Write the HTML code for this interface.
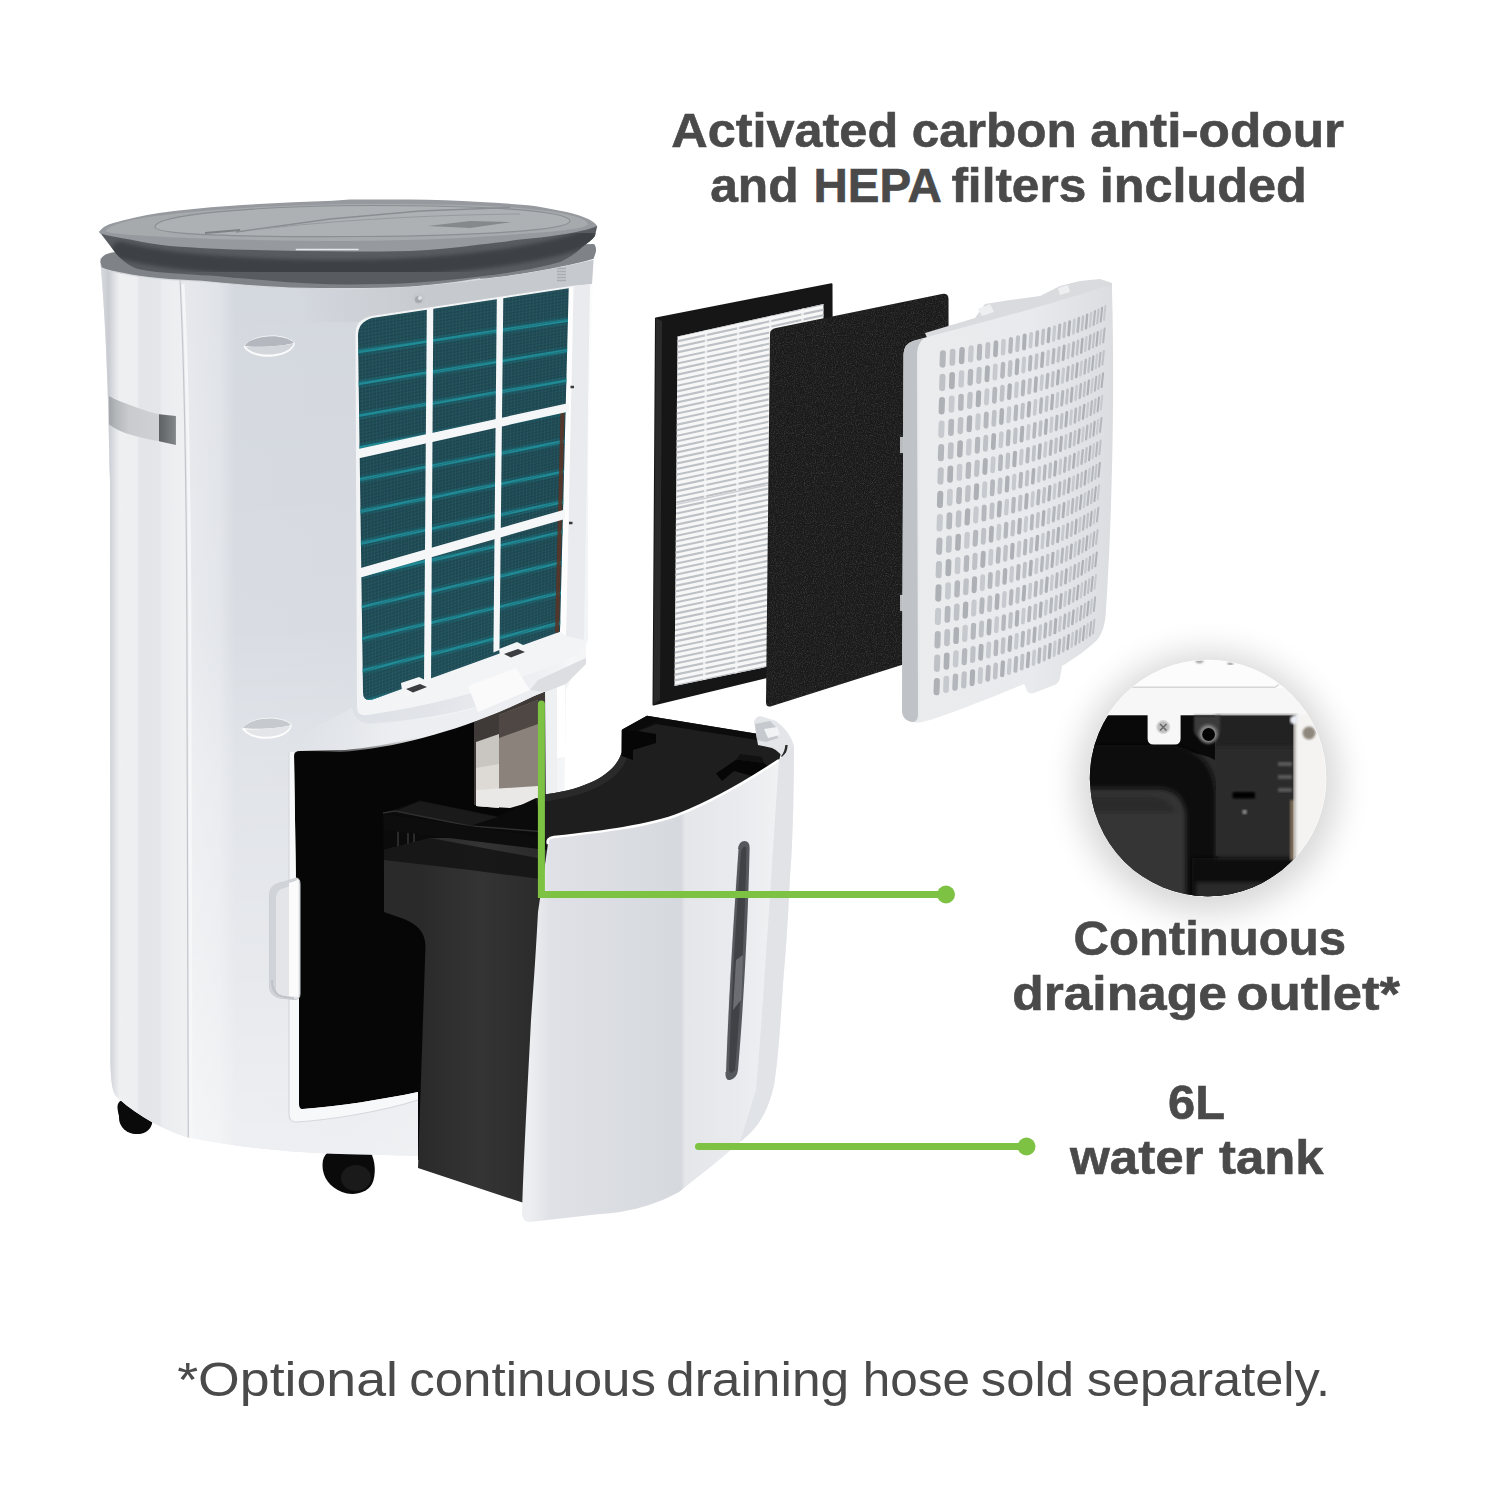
<!DOCTYPE html>
<html lang="en"><head><meta charset="utf-8"><title>Dehumidifier features</title>
<style>
html,body{margin:0;padding:0;background:#fff;}
body{width:1500px;height:1500px;overflow:hidden;font-family:"Liberation Sans",sans-serif;}
svg{display:block}
svg text{font-family:"Liberation Sans",sans-serif;fill:#4a4a4a}
</style></head><body>
<svg width="1500" height="1500" viewBox="0 0 1500 1500">
<rect width="1500" height="1500" fill="#fff"/>
<!-- defs -->
<defs>
<linearGradient id="gSide" x1="100" x2="186" y1="0" y2="0" gradientUnits="userSpaceOnUse">
 <stop offset="0" stop-color="#d9dbdf"/><stop offset="0.1" stop-color="#c9ccd1"/><stop offset="0.17" stop-color="#dfe1e5"/>
 <stop offset="0.23" stop-color="#eef0f2"/><stop offset="0.43" stop-color="#eceef0"/>
 <stop offset="0.46" stop-color="#e3e5e9"/><stop offset="0.7" stop-color="#e4e6ea"/>
 <stop offset="0.72" stop-color="#eaecef"/><stop offset="1" stop-color="#eef0f2"/>
</linearGradient>
<linearGradient id="gFront" x1="186" x2="600" y1="0" y2="0" gradientUnits="userSpaceOnUse">
 <stop offset="0" stop-color="#e6e8ec"/><stop offset="0.08" stop-color="#e0e3e8"/><stop offset="0.12" stop-color="#d4d8df"/>
 <stop offset="0.4" stop-color="#d3d7de"/><stop offset="0.6" stop-color="#d9dce2"/>
 <stop offset="0.9" stop-color="#eef0f3"/><stop offset="1" stop-color="#ffffff"/>
</linearGradient>
<linearGradient id="gFrontV" x1="0" x2="0" y1="280" y2="1150" gradientUnits="userSpaceOnUse">
 <stop offset="0" stop-color="#fff" stop-opacity="0"/><stop offset="0.4" stop-color="#fff" stop-opacity="0.12"/>
 <stop offset="0.55" stop-color="#fff" stop-opacity="0.3"/><stop offset="0.8" stop-color="#fff" stop-opacity="0.45"/><stop offset="1" stop-color="#fff" stop-opacity="0.6"/>
</linearGradient>
<linearGradient id="gLidRim" x1="0" x2="0" y1="215" y2="285" gradientUnits="userSpaceOnUse">
 <stop offset="0" stop-color="#8e9295"/><stop offset="0.45" stop-color="#85898c"/>
 <stop offset="0.6" stop-color="#6b6f73"/><stop offset="1" stop-color="#5c6064"/>
</linearGradient>
<linearGradient id="gSilver" x1="109" x2="176" y1="0" y2="0" gradientUnits="userSpaceOnUse">
 <stop offset="0" stop-color="#a0a3a7"/><stop offset="0.1" stop-color="#b4b7ba"/><stop offset="0.3" stop-color="#c9cbce"/>
 <stop offset="0.74" stop-color="#cfd1d4"/><stop offset="0.75" stop-color="#5f6265"/><stop offset="1" stop-color="#84878a"/>
</linearGradient>
<linearGradient id="gTankFront" x1="530" x2="795" y1="0" y2="0" gradientUnits="userSpaceOnUse">
 <stop offset="0" stop-color="#eceef1"/><stop offset="0.08" stop-color="#dfe1e6"/>
 <stop offset="0.5" stop-color="#d7dadf"/><stop offset="0.57" stop-color="#d5d8dd"/><stop offset="0.585" stop-color="#e4e6ea"/>
 <stop offset="0.8" stop-color="#e9ebee"/><stop offset="1" stop-color="#f3f4f6"/>
</linearGradient>
<linearGradient id="gTankSide" x1="420" x2="540" y1="0" y2="0" gradientUnits="userSpaceOnUse">
 <stop offset="0" stop-color="#2a2a2a"/><stop offset="0.5" stop-color="#343434"/><stop offset="1" stop-color="#2b2b2b"/>
</linearGradient>
<linearGradient id="gGrille" x1="900" x2="1115" y1="0" y2="0" gradientUnits="userSpaceOnUse">
 <stop offset="0" stop-color="#d9dadd"/><stop offset="0.1" stop-color="#ebecee"/><stop offset="0.6" stop-color="#e9eaed"/><stop offset="1" stop-color="#dcdde1"/>
</linearGradient>
<radialGradient id="gInsetSh" cx="1208" cy="782" r="160" gradientUnits="userSpaceOnUse">
 <stop offset="0.72" stop-color="#000" stop-opacity="0.22"/><stop offset="0.85" stop-color="#000" stop-opacity="0.07"/><stop offset="1" stop-color="#000" stop-opacity="0"/>
</radialGradient>
<clipPath id="cInset"><circle cx="1207.8" cy="778.2" r="118"/></clipPath>
<filter id="blur2"><feGaussianBlur stdDeviation="2"/></filter>
<filter id="blur4"><feGaussianBlur stdDeviation="4"/></filter>
<filter id="blur12" x="-40%" y="-40%" width="180%" height="180%"><feGaussianBlur stdDeviation="17"/></filter>
<filter id="blur1"><feGaussianBlur stdDeviation="1"/></filter>
</defs>

<!-- filters -->
<g id="filters">
<path d="M656 318.5 L831.5 284.2 L832.5 661 L653.5 704.5 Z" fill="#161616" stroke="#161616" stroke-width="2" stroke-linejoin="round"/>
<path d="M656 318.5 L662 321 L660 700 L653.5 704.5 Z" fill="#2a2a2a"/>
<clipPath id="cHepa"><path d="M677.5 336.5 L823.5 304 L823.5 655 L674.5 686 Z"/></clipPath>
<g clip-path="url(#cHepa)">
<rect x="670" y="300" width="160" height="390" fill="#f7f7f8"/>
<path d="M674 336.5 L824 304.0" stroke="#bdc0c4" stroke-width="2.1"/>
<path d="M674 342.0 L824 309.6" stroke="#bdc0c4" stroke-width="2.1"/>
<path d="M674 347.6 L824 315.1" stroke="#bdc0c4" stroke-width="2.1"/>
<path d="M674 353.1 L824 320.7" stroke="#bdc0c4" stroke-width="2.1"/>
<path d="M674 358.7 L824 326.3" stroke="#bdc0c4" stroke-width="2.1"/>
<path d="M674 364.2 L824 331.9" stroke="#bdc0c4" stroke-width="2.1"/>
<path d="M674 369.8 L824 337.4" stroke="#bdc0c4" stroke-width="2.1"/>
<path d="M674 375.3 L824 343.0" stroke="#bdc0c4" stroke-width="2.1"/>
<path d="M674 380.9 L824 348.6" stroke="#bdc0c4" stroke-width="2.1"/>
<path d="M674 386.4 L824 354.1" stroke="#bdc0c4" stroke-width="2.1"/>
<path d="M674 392.0 L824 359.7" stroke="#bdc0c4" stroke-width="2.1"/>
<path d="M674 397.5 L824 365.3" stroke="#bdc0c4" stroke-width="2.1"/>
<path d="M674 403.1 L824 370.9" stroke="#bdc0c4" stroke-width="2.1"/>
<path d="M674 408.6 L824 376.4" stroke="#bdc0c4" stroke-width="2.1"/>
<path d="M674 414.2 L824 382.0" stroke="#bdc0c4" stroke-width="2.1"/>
<path d="M674 419.7 L824 387.6" stroke="#bdc0c4" stroke-width="2.1"/>
<path d="M674 425.3 L824 393.1" stroke="#bdc0c4" stroke-width="2.1"/>
<path d="M674 430.8 L824 398.7" stroke="#bdc0c4" stroke-width="2.1"/>
<path d="M674 436.4 L824 404.3" stroke="#bdc0c4" stroke-width="2.1"/>
<path d="M674 441.9 L824 409.9" stroke="#bdc0c4" stroke-width="2.1"/>
<path d="M674 447.5 L824 415.4" stroke="#bdc0c4" stroke-width="2.1"/>
<path d="M674 453.0 L824 421.0" stroke="#bdc0c4" stroke-width="2.1"/>
<path d="M674 458.5 L824 426.6" stroke="#bdc0c4" stroke-width="2.1"/>
<path d="M674 464.1 L824 432.1" stroke="#bdc0c4" stroke-width="2.1"/>
<path d="M674 469.6 L824 437.7" stroke="#bdc0c4" stroke-width="2.1"/>
<path d="M674 475.2 L824 443.3" stroke="#bdc0c4" stroke-width="2.1"/>
<path d="M674 480.7 L824 448.9" stroke="#bdc0c4" stroke-width="2.1"/>
<path d="M674 486.3 L824 454.4" stroke="#bdc0c4" stroke-width="2.1"/>
<path d="M674 491.8 L824 460.0" stroke="#bdc0c4" stroke-width="2.1"/>
<path d="M674 497.4 L824 465.6" stroke="#bdc0c4" stroke-width="2.1"/>
<path d="M674 502.9 L824 471.1" stroke="#bdc0c4" stroke-width="2.1"/>
<path d="M674 508.5 L824 476.7" stroke="#bdc0c4" stroke-width="2.1"/>
<path d="M674 514.0 L824 482.3" stroke="#bdc0c4" stroke-width="2.1"/>
<path d="M674 519.6 L824 487.9" stroke="#bdc0c4" stroke-width="2.1"/>
<path d="M674 525.1 L824 493.4" stroke="#bdc0c4" stroke-width="2.1"/>
<path d="M674 530.7 L824 499.0" stroke="#bdc0c4" stroke-width="2.1"/>
<path d="M674 536.2 L824 504.6" stroke="#bdc0c4" stroke-width="2.1"/>
<path d="M674 541.8 L824 510.1" stroke="#bdc0c4" stroke-width="2.1"/>
<path d="M674 547.3 L824 515.7" stroke="#bdc0c4" stroke-width="2.1"/>
<path d="M674 552.9 L824 521.3" stroke="#bdc0c4" stroke-width="2.1"/>
<path d="M674 558.4 L824 526.9" stroke="#bdc0c4" stroke-width="2.1"/>
<path d="M674 564.0 L824 532.4" stroke="#bdc0c4" stroke-width="2.1"/>
<path d="M674 569.5 L824 538.0" stroke="#bdc0c4" stroke-width="2.1"/>
<path d="M674 575.0 L824 543.6" stroke="#bdc0c4" stroke-width="2.1"/>
<path d="M674 580.6 L824 549.1" stroke="#bdc0c4" stroke-width="2.1"/>
<path d="M674 586.1 L824 554.7" stroke="#bdc0c4" stroke-width="2.1"/>
<path d="M674 591.7 L824 560.3" stroke="#bdc0c4" stroke-width="2.1"/>
<path d="M674 597.2 L824 565.9" stroke="#bdc0c4" stroke-width="2.1"/>
<path d="M674 602.8 L824 571.4" stroke="#bdc0c4" stroke-width="2.1"/>
<path d="M674 608.3 L824 577.0" stroke="#bdc0c4" stroke-width="2.1"/>
<path d="M674 613.9 L824 582.6" stroke="#bdc0c4" stroke-width="2.1"/>
<path d="M674 619.4 L824 588.1" stroke="#bdc0c4" stroke-width="2.1"/>
<path d="M674 625.0 L824 593.7" stroke="#bdc0c4" stroke-width="2.1"/>
<path d="M674 630.5 L824 599.3" stroke="#bdc0c4" stroke-width="2.1"/>
<path d="M674 636.1 L824 604.9" stroke="#bdc0c4" stroke-width="2.1"/>
<path d="M674 641.6 L824 610.4" stroke="#bdc0c4" stroke-width="2.1"/>
<path d="M674 647.2 L824 616.0" stroke="#bdc0c4" stroke-width="2.1"/>
<path d="M674 652.7 L824 621.6" stroke="#bdc0c4" stroke-width="2.1"/>
<path d="M674 658.3 L824 627.1" stroke="#bdc0c4" stroke-width="2.1"/>
<path d="M674 663.8 L824 632.7" stroke="#bdc0c4" stroke-width="2.1"/>
<path d="M674 669.4 L824 638.3" stroke="#bdc0c4" stroke-width="2.1"/>
<path d="M674 674.9 L824 643.9" stroke="#bdc0c4" stroke-width="2.1"/>
<path d="M674 680.5 L824 649.4" stroke="#bdc0c4" stroke-width="2.1"/>
<path d="M674 686.0 L824 655.0" stroke="#bdc0c4" stroke-width="2.1"/>
<path d="M706.2 300 L704.2 690" stroke="#f6f6f7" stroke-width="2.5" opacity="0.8"/>
<path d="M738.3 300 L736.3 690" stroke="#f6f6f7" stroke-width="2.5" opacity="0.8"/>
<path d="M770.4 300 L768.4 690" stroke="#f6f6f7" stroke-width="2.5" opacity="0.8"/>
<path d="M802.6 300 L800.6 690" stroke="#f6f6f7" stroke-width="2.5" opacity="0.8"/>
<path d="M674 505 L824 473" stroke="#cfd1d5" stroke-width="1.5"/>
</g>
<filter id="fNoise" x="0" y="0" width="100%" height="100%"><feTurbulence type="fractalNoise" baseFrequency="0.9" numOctaves="2" seed="4"/><feColorMatrix type="matrix" values="0 0 0 0 0.26  0 0 0 0 0.26  0 0 0 0 0.26  0 0 0 -2.2 1.25"/><feComposite in2="SourceGraphic" operator="in"/></filter>
<path d="M770 334 Q770 329 776 328 L942 294 Q948.5 293 948.5 299 L949 650 L772 706 Q766 708 766 702 Z" fill="#1a1a1a"/>
<path d="M770 334 Q770 329 776 328 L942 294 Q948.5 293 948.5 299 L949 650 L772 706 Q766 708 766 702 Z" fill="#000" filter="url(#fNoise)" opacity="0.3"/>
<path d="M925 333 L975 318 L985 304 L1010 300 L1040 296 L1060 286 L1080 281 L1100 279 L1112 283 L1112 300 L930 345 Z" fill="#d9dbde"/>
<path d="M978 309 L990 304 L994 312 L982 316 Z M1058 288 L1068 285 L1070 292 L1060 295 Z" fill="#eeeff1"/>
<path d="M900 436 h7 v18 h-7 z M900 594 h7 v18 h-7 z" fill="#b9bbbf"/>
<path d="M899 436 h8 M899 454 h8 M899 594 h8 M899 612 h8" stroke="#2a2a2a" stroke-width="2"/>
<path d="M903.5 354 Q904 344 913 341 C960 328 1040 308 1100 288 Q1110 284 1112 290 C1114.5 380 1113 500 1106 610 Q1105 632 1096 641 C1084 652 1072 660 1062 666 L1060 678 Q1059 684 1052 686 L1034 693 Q1027 695 1026 688 L1024 684 C990 698 960 710 930 720 C922 722.5 916 723 912 722 Q903 720 902 712 Z" fill="url(#gGrille)"/>
<path d="M903.5 354 Q904 344 913 341 L924 338 Q917 344 917 354 L918 716 Q917 722 912 722 Q903 720 902 712 Z" fill="#bfc2c6"/>
<g stroke="#b4b7bc" stroke-linecap="round" fill="none"><path d="M942.9 353.3L942.5 364.7" stroke-width="6.0"/><path d="M979.7 346.2L979.2 358.2" stroke-width="5.1"/><path d="M1011.0 339.1L1010.3 351.7" stroke-width="4.3"/><path d="M1037.4 332.1L1036.6 345.1" stroke-width="3.6"/><path d="M1059.8 325.1L1058.8 338.4" stroke-width="3.1"/><path d="M1078.9 318.1L1077.7 331.7" stroke-width="2.6"/><path d="M1095.0 311.2L1093.6 325.0" stroke-width="2.2"/><path d="M970.6 371.3L970.1 383.1" stroke-width="5.3"/><path d="M1003.1 364.0L1002.4 376.4" stroke-width="4.5"/><path d="M1030.6 356.8L1029.8 369.7" stroke-width="3.8"/><path d="M1053.9 349.7L1052.9 362.9" stroke-width="3.2"/><path d="M1073.7 342.6L1072.5 356.1" stroke-width="2.7"/><path d="M1090.4 335.5L1089.1 349.2" stroke-width="2.3"/><path d="M1104.6 328.5L1103.2 342.3" stroke-width="2.0"/><path d="M961.1 396.4L960.7 408.1" stroke-width="5.5"/><path d="M994.9 389.0L994.3 401.3" stroke-width="4.7"/><path d="M1023.5 381.6L1022.7 394.4" stroke-width="4.0"/><path d="M1047.8 374.3L1046.8 387.5" stroke-width="3.3"/><path d="M1068.3 367.1L1067.2 380.5" stroke-width="2.8"/><path d="M1085.8 359.9L1084.5 373.5" stroke-width="2.4"/><path d="M1100.5 352.7L1099.1 366.5" stroke-width="2.0"/><path d="M951.3 421.6L950.9 433.1" stroke-width="5.7"/><path d="M986.4 414.0L985.9 426.2" stroke-width="4.9"/><path d="M1016.2 406.5L1015.5 419.2" stroke-width="4.1"/><path d="M1041.4 399.1L1040.5 412.2" stroke-width="3.5"/><path d="M1062.8 391.6L1061.7 405.0" stroke-width="3.0"/><path d="M1080.9 384.3L1079.7 397.9" stroke-width="2.5"/><path d="M1096.3 376.9L1094.9 390.7" stroke-width="2.1"/><path d="M941.2 446.9L940.8 458.3" stroke-width="6.0"/><path d="M977.7 439.2L977.2 451.2" stroke-width="5.1"/><path d="M1008.6 431.5L1007.9 444.1" stroke-width="4.3"/><path d="M1034.9 423.9L1034.0 436.9" stroke-width="3.6"/><path d="M1057.1 416.3L1056.1 429.6" stroke-width="3.1"/><path d="M1075.9 408.8L1074.8 422.4" stroke-width="2.6"/><path d="M1091.9 401.3L1090.6 415.0" stroke-width="2.2"/><path d="M968.6 464.4L968.1 476.3" stroke-width="5.3"/><path d="M1000.8 456.6L1000.2 469.0" stroke-width="4.5"/><path d="M1028.1 448.8L1027.3 461.7" stroke-width="3.8"/><path d="M1051.2 441.0L1050.2 454.3" stroke-width="3.2"/><path d="M1070.8 433.3L1069.7 446.9" stroke-width="2.7"/><path d="M1087.4 425.7L1086.1 439.4" stroke-width="2.3"/><path d="M1101.5 418.1L1100.0 431.9" stroke-width="2.0"/><path d="M959.3 489.7L958.8 501.4" stroke-width="5.5"/><path d="M992.7 481.7L992.1 494.0" stroke-width="4.7"/><path d="M1021.1 473.7L1020.3 486.5" stroke-width="4.0"/><path d="M1045.1 465.9L1044.2 479.0" stroke-width="3.3"/><path d="M1065.5 458.0L1064.4 471.5" stroke-width="2.8"/><path d="M1082.8 450.2L1081.5 463.9" stroke-width="2.4"/><path d="M1097.4 442.4L1096.0 456.2" stroke-width="2.0"/><path d="M949.5 515.1L949.1 526.6" stroke-width="5.7"/><path d="M984.3 506.9L983.8 519.1" stroke-width="4.9"/><path d="M1013.8 498.8L1013.1 511.5" stroke-width="4.1"/><path d="M1038.8 490.7L1037.9 503.8" stroke-width="3.5"/><path d="M1060.0 482.7L1059.0 496.1" stroke-width="3.0"/><path d="M1078.0 474.8L1076.8 488.4" stroke-width="2.5"/><path d="M1093.2 466.8L1091.8 480.6" stroke-width="2.1"/><path d="M939.5 540.5L939.1 551.9" stroke-width="6.0"/><path d="M975.7 532.2L975.1 544.2" stroke-width="5.1"/><path d="M1006.3 523.9L1005.6 536.5" stroke-width="4.3"/><path d="M1032.3 515.7L1031.5 528.7" stroke-width="3.6"/><path d="M1054.4 507.5L1053.3 520.9" stroke-width="3.1"/><path d="M1073.0 499.4L1071.9 513.0" stroke-width="2.6"/><path d="M1088.9 491.3L1087.5 505.1" stroke-width="2.2"/><path d="M966.7 557.6L966.2 569.4" stroke-width="5.3"/><path d="M998.6 549.1L997.9 561.6" stroke-width="4.5"/><path d="M1025.6 540.7L1024.8 553.6" stroke-width="3.8"/><path d="M1048.5 532.4L1047.5 545.7" stroke-width="3.2"/><path d="M1067.9 524.1L1066.8 537.7" stroke-width="2.7"/><path d="M1084.4 515.9L1083.1 529.6" stroke-width="2.3"/><path d="M1098.4 507.7L1096.9 521.5" stroke-width="2.0"/><path d="M957.4 583.0L956.9 594.7" stroke-width="5.5"/><path d="M990.5 574.4L989.9 586.7" stroke-width="4.7"/><path d="M1018.6 565.9L1017.9 578.7" stroke-width="4.0"/><path d="M1042.5 557.4L1041.5 570.5" stroke-width="3.3"/><path d="M1062.7 548.9L1061.6 562.4" stroke-width="2.8"/><path d="M1079.8 540.5L1078.5 554.2" stroke-width="2.4"/><path d="M1094.3 532.2L1092.9 546.0" stroke-width="2.0"/><path d="M947.7 608.5L947.3 620.0" stroke-width="5.7"/><path d="M982.2 599.8L981.6 611.9" stroke-width="4.9"/><path d="M1011.5 591.1L1010.7 603.7" stroke-width="4.1"/><path d="M1036.2 582.4L1035.3 595.5" stroke-width="3.5"/><path d="M1057.2 573.8L1056.2 587.2" stroke-width="3.0"/><path d="M1075.0 565.3L1073.8 578.9" stroke-width="2.5"/><path d="M1090.1 556.7L1088.7 570.5" stroke-width="2.1"/><path d="M937.8 634.1L937.4 645.5" stroke-width="6.0"/><path d="M973.6 625.2L973.1 637.2" stroke-width="5.1"/><path d="M1004.0 616.3L1003.3 628.9" stroke-width="4.3"/><path d="M1029.8 607.5L1028.9 620.5" stroke-width="3.6"/><path d="M1051.6 598.8L1050.6 612.1" stroke-width="3.1"/><path d="M1070.1 590.0L1068.9 603.6" stroke-width="2.6"/><path d="M1085.8 581.4L1084.5 595.1" stroke-width="2.2"/><path d="M964.7 650.7L964.2 662.6" stroke-width="5.3"/><path d="M996.3 641.7L995.7 654.1" stroke-width="4.5"/><path d="M1023.1 632.7L1022.3 645.6" stroke-width="3.8"/><path d="M1045.8 623.8L1044.8 637.0" stroke-width="3.2"/><path d="M1065.1 614.9L1063.9 628.4" stroke-width="2.7"/><path d="M1081.4 606.1L1080.1 619.8" stroke-width="2.3"/><path d="M1095.2 597.3L1093.8 611.1" stroke-width="2.0"/><path d="M955.5 676.3L955.0 688.0" stroke-width="5.5"/><path d="M988.4 667.1L987.7 679.4" stroke-width="4.7"/><path d="M1016.2 658.0L1015.4 670.8" stroke-width="4.0"/><path d="M1039.8 648.9L1038.9 662.1" stroke-width="3.3"/><path d="M1059.8 639.9L1058.7 653.3" stroke-width="2.8"/><path d="M1076.8 630.9L1075.5 644.5" stroke-width="2.4"/><path d="M1091.2 621.9L1089.8 635.7" stroke-width="2.0"/></g>
<g stroke="#c6c9cd" stroke-linecap="round" fill="none"><path d="M971.1 348.0L970.6 359.8" stroke-width="5.3"/><path d="M1003.6 340.9L1003.0 353.3" stroke-width="4.5"/><path d="M1031.2 333.8L1030.4 346.7" stroke-width="3.8"/><path d="M1054.6 326.8L1053.6 340.1" stroke-width="3.2"/><path d="M1074.4 319.9L1073.3 333.4" stroke-width="2.7"/><path d="M1091.2 313.0L1089.9 326.7" stroke-width="2.3"/><path d="M1105.4 306.1L1104.0 319.9" stroke-width="2.0"/><path d="M961.6 373.1L961.1 384.8" stroke-width="5.5"/><path d="M995.4 365.8L994.8 378.1" stroke-width="4.7"/><path d="M1024.1 358.6L1023.3 371.4" stroke-width="4.0"/><path d="M1048.4 351.4L1047.5 364.6" stroke-width="3.3"/><path d="M1069.0 344.3L1067.9 357.8" stroke-width="2.8"/><path d="M1086.5 337.3L1085.2 350.9" stroke-width="2.4"/><path d="M1101.3 330.2L1099.9 344.1" stroke-width="2.0"/><path d="M951.8 398.3L951.4 409.8" stroke-width="5.7"/><path d="M987.0 390.8L986.4 403.0" stroke-width="4.9"/><path d="M1016.8 383.5L1016.1 396.1" stroke-width="4.1"/><path d="M1042.1 376.1L1041.2 389.2" stroke-width="3.5"/><path d="M1063.5 368.9L1062.4 382.3" stroke-width="3.0"/><path d="M1081.7 361.7L1080.4 375.3" stroke-width="2.5"/><path d="M1097.1 354.5L1095.7 368.3" stroke-width="2.1"/><path d="M941.6 423.5L941.2 434.9" stroke-width="6.0"/><path d="M978.2 415.9L977.7 427.9" stroke-width="5.1"/><path d="M1009.2 408.4L1008.5 421.0" stroke-width="4.3"/><path d="M1035.5 400.9L1034.6 413.9" stroke-width="3.6"/><path d="M1057.8 393.5L1056.8 406.8" stroke-width="3.1"/><path d="M1076.7 386.1L1075.5 399.7" stroke-width="2.6"/><path d="M1092.7 378.8L1091.3 392.5" stroke-width="2.2"/><path d="M969.1 441.1L968.6 453.0" stroke-width="5.3"/><path d="M1001.4 433.4L1000.7 445.9" stroke-width="4.5"/><path d="M1028.7 425.8L1027.9 438.7" stroke-width="3.8"/><path d="M1051.9 418.2L1050.9 431.4" stroke-width="3.2"/><path d="M1071.5 410.7L1070.4 424.2" stroke-width="2.7"/><path d="M1088.2 403.1L1086.9 416.9" stroke-width="2.3"/><path d="M1102.3 395.7L1100.8 409.5" stroke-width="2.0"/><path d="M959.7 466.4L959.3 478.1" stroke-width="5.5"/><path d="M993.3 458.5L992.6 470.8" stroke-width="4.7"/><path d="M1021.7 450.7L1020.9 463.5" stroke-width="4.0"/><path d="M1045.8 443.0L1044.8 456.1" stroke-width="3.3"/><path d="M1066.2 435.3L1065.1 448.7" stroke-width="2.8"/><path d="M1083.5 427.6L1082.3 441.3" stroke-width="2.4"/><path d="M1098.2 420.0L1096.8 433.8" stroke-width="2.0"/><path d="M950.0 491.7L949.6 503.2" stroke-width="5.7"/><path d="M984.9 483.7L984.3 495.8" stroke-width="4.9"/><path d="M1014.4 475.7L1013.7 488.4" stroke-width="4.1"/><path d="M1039.5 467.8L1038.6 480.9" stroke-width="3.5"/><path d="M1060.7 460.0L1059.7 473.4" stroke-width="3.0"/><path d="M1078.7 452.1L1077.5 465.8" stroke-width="2.5"/><path d="M1094.0 444.4L1092.6 458.1" stroke-width="2.1"/><path d="M939.9 517.1L939.5 528.5" stroke-width="6.0"/><path d="M976.2 508.9L975.6 521.0" stroke-width="5.1"/><path d="M1006.9 500.8L1006.2 513.4" stroke-width="4.3"/><path d="M1033.0 492.7L1032.1 505.7" stroke-width="3.6"/><path d="M1055.0 484.7L1054.0 498.1" stroke-width="3.1"/><path d="M1073.8 476.8L1072.6 490.3" stroke-width="2.6"/><path d="M1089.6 468.8L1088.3 482.6" stroke-width="2.2"/><path d="M967.2 534.3L966.7 546.1" stroke-width="5.3"/><path d="M999.1 526.0L998.5 538.4" stroke-width="4.5"/><path d="M1026.2 517.8L1025.4 530.6" stroke-width="3.8"/><path d="M1049.2 509.6L1048.2 522.8" stroke-width="3.2"/><path d="M1068.7 501.4L1067.5 515.0" stroke-width="2.7"/><path d="M1085.2 493.3L1083.9 507.1" stroke-width="2.3"/><path d="M1099.1 485.3L1097.7 499.1" stroke-width="2.0"/><path d="M957.8 559.7L957.4 571.4" stroke-width="5.5"/><path d="M991.1 551.2L990.5 563.5" stroke-width="4.7"/><path d="M1019.3 542.8L1018.5 555.6" stroke-width="4.0"/><path d="M1043.1 534.5L1042.2 547.7" stroke-width="3.3"/><path d="M1063.4 526.2L1062.3 539.7" stroke-width="2.8"/><path d="M1080.5 517.9L1079.3 531.6" stroke-width="2.4"/><path d="M1095.1 509.7L1093.7 523.5" stroke-width="2.0"/><path d="M948.2 585.2L947.8 596.7" stroke-width="5.7"/><path d="M982.8 576.6L982.2 588.7" stroke-width="4.9"/><path d="M1012.0 568.0L1011.3 580.7" stroke-width="4.1"/><path d="M1036.9 559.5L1036.0 572.6" stroke-width="3.5"/><path d="M1057.9 551.0L1056.9 564.4" stroke-width="3.0"/><path d="M1075.8 542.6L1074.6 556.3" stroke-width="2.5"/><path d="M1090.9 534.3L1089.5 548.0" stroke-width="2.1"/><path d="M938.2 610.7L937.8 622.1" stroke-width="6.0"/><path d="M974.1 602.0L973.6 614.0" stroke-width="5.1"/><path d="M1004.6 593.2L1003.9 605.8" stroke-width="4.3"/><path d="M1030.4 584.6L1029.6 597.6" stroke-width="3.6"/><path d="M1052.3 576.0L1051.3 589.3" stroke-width="3.1"/><path d="M1070.9 567.4L1069.7 581.0" stroke-width="2.6"/><path d="M1086.6 558.9L1085.2 572.6" stroke-width="2.2"/><path d="M965.2 627.4L964.7 639.3" stroke-width="5.3"/><path d="M996.9 618.5L996.2 631.0" stroke-width="4.5"/><path d="M1023.7 609.7L1022.9 622.6" stroke-width="3.8"/><path d="M1046.5 601.0L1045.5 614.2" stroke-width="3.2"/><path d="M1065.8 592.2L1064.6 605.7" stroke-width="2.7"/><path d="M1082.1 583.5L1080.8 597.3" stroke-width="2.3"/><path d="M1096.0 574.9L1094.5 588.7" stroke-width="2.0"/><path d="M956.0 653.0L955.5 664.7" stroke-width="5.5"/><path d="M988.9 643.9L988.3 656.2" stroke-width="4.7"/><path d="M1016.8 635.0L1016.0 647.7" stroke-width="4.0"/><path d="M1040.5 626.0L1039.5 639.2" stroke-width="3.3"/><path d="M1060.5 617.1L1059.4 630.6" stroke-width="2.8"/><path d="M1077.6 608.3L1076.3 622.0" stroke-width="2.4"/><path d="M1092.0 599.5L1090.5 613.3" stroke-width="2.0"/><path d="M946.4 678.6L946.0 690.1" stroke-width="5.7"/><path d="M980.6 669.4L980.1 681.6" stroke-width="4.9"/><path d="M1009.7 660.3L1008.9 672.9" stroke-width="4.1"/><path d="M1034.3 651.2L1033.4 664.3" stroke-width="3.5"/><path d="M1055.1 642.1L1054.1 655.5" stroke-width="3.0"/><path d="M1072.8 633.1L1071.6 646.7" stroke-width="2.5"/><path d="M1087.8 624.1L1086.4 637.9" stroke-width="2.1"/></g>
<g stroke="#adb0b5" stroke-linecap="round" fill="none"><path d="M962.1 349.8L961.6 361.4" stroke-width="5.5"/><path d="M996.0 342.6L995.4 354.9" stroke-width="4.7"/><path d="M1024.7 335.6L1024.0 348.4" stroke-width="4.0"/><path d="M1049.1 328.6L1048.2 341.7" stroke-width="3.3"/><path d="M1069.7 321.6L1068.6 335.1" stroke-width="2.8"/><path d="M1087.2 314.7L1086.0 328.4" stroke-width="2.4"/><path d="M1102.1 307.8L1100.7 321.6" stroke-width="2.0"/><path d="M952.2 374.9L951.8 386.4" stroke-width="5.7"/><path d="M987.5 367.6L986.9 379.8" stroke-width="4.9"/><path d="M1017.4 360.4L1016.7 373.1" stroke-width="4.1"/><path d="M1042.7 353.2L1041.8 366.3" stroke-width="3.5"/><path d="M1064.2 346.1L1063.1 359.5" stroke-width="3.0"/><path d="M1082.4 339.0L1081.2 352.7" stroke-width="2.5"/><path d="M1097.8 332.0L1096.5 345.8" stroke-width="2.1"/><path d="M942.0 400.1L941.6 411.5" stroke-width="6.0"/><path d="M978.7 392.7L978.2 404.7" stroke-width="5.1"/><path d="M1009.8 385.3L1009.1 397.9" stroke-width="4.3"/><path d="M1036.1 378.0L1035.3 391.0" stroke-width="3.6"/><path d="M1058.5 370.7L1057.5 384.0" stroke-width="3.1"/><path d="M1077.4 363.5L1076.2 377.0" stroke-width="2.6"/><path d="M1093.4 356.3L1092.1 370.0" stroke-width="2.2"/><path d="M969.6 417.8L969.1 429.7" stroke-width="5.3"/><path d="M1001.9 410.3L1001.3 422.7" stroke-width="4.5"/><path d="M1029.3 402.8L1028.5 415.7" stroke-width="3.8"/><path d="M1052.6 395.4L1051.6 408.6" stroke-width="3.2"/><path d="M1072.2 388.0L1071.1 401.5" stroke-width="2.7"/><path d="M1088.9 380.6L1087.6 394.3" stroke-width="2.3"/><path d="M1103.1 373.3L1101.6 387.1" stroke-width="2.0"/><path d="M960.2 443.1L959.7 454.7" stroke-width="5.5"/><path d="M993.8 435.3L993.2 447.6" stroke-width="4.7"/><path d="M1022.3 427.7L1021.5 440.5" stroke-width="4.0"/><path d="M1046.4 420.1L1045.5 433.3" stroke-width="3.3"/><path d="M1066.9 412.5L1065.8 426.0" stroke-width="2.8"/><path d="M1084.3 405.0L1083.0 418.7" stroke-width="2.4"/><path d="M1099.0 397.5L1097.6 411.4" stroke-width="2.0"/><path d="M950.4 468.4L950.0 479.9" stroke-width="5.7"/><path d="M985.4 460.5L984.8 472.6" stroke-width="4.9"/><path d="M1015.0 452.7L1014.3 465.3" stroke-width="4.1"/><path d="M1040.1 444.9L1039.2 458.0" stroke-width="3.5"/><path d="M1061.4 437.2L1060.4 450.6" stroke-width="3.0"/><path d="M1079.5 429.5L1078.2 443.1" stroke-width="2.5"/><path d="M1094.7 421.9L1093.4 435.7" stroke-width="2.1"/><path d="M940.3 493.7L939.9 505.1" stroke-width="6.0"/><path d="M976.7 485.7L976.1 497.7" stroke-width="5.1"/><path d="M1007.5 477.7L1006.8 490.3" stroke-width="4.3"/><path d="M1033.6 469.8L1032.7 482.8" stroke-width="3.6"/><path d="M1055.7 461.9L1054.7 475.2" stroke-width="3.1"/><path d="M1074.5 454.1L1073.3 467.7" stroke-width="2.6"/><path d="M1090.4 446.3L1089.1 460.1" stroke-width="2.2"/><path d="M967.7 511.0L967.1 522.8" stroke-width="5.3"/><path d="M999.7 502.8L999.0 515.3" stroke-width="4.5"/><path d="M1026.8 494.8L1026.0 507.7" stroke-width="3.8"/><path d="M1049.9 486.7L1048.9 500.0" stroke-width="3.2"/><path d="M1069.4 478.7L1068.2 492.3" stroke-width="2.7"/><path d="M1085.9 470.8L1084.6 484.5" stroke-width="2.3"/><path d="M1099.9 462.9L1098.5 476.7" stroke-width="2.0"/><path d="M958.3 536.4L957.8 548.0" stroke-width="5.5"/><path d="M991.6 528.0L991.0 540.4" stroke-width="4.7"/><path d="M1019.9 519.8L1019.1 532.6" stroke-width="4.0"/><path d="M1043.8 511.6L1042.9 524.8" stroke-width="3.3"/><path d="M1064.1 503.5L1063.0 516.9" stroke-width="2.8"/><path d="M1081.3 495.4L1080.0 509.0" stroke-width="2.4"/><path d="M1095.9 487.3L1094.4 501.1" stroke-width="2.0"/><path d="M948.6 561.8L948.2 573.3" stroke-width="5.7"/><path d="M983.3 553.3L982.7 565.5" stroke-width="4.9"/><path d="M1012.6 544.9L1011.9 557.6" stroke-width="4.1"/><path d="M1037.5 536.6L1036.6 549.7" stroke-width="3.5"/><path d="M1058.6 528.3L1057.6 541.7" stroke-width="3.0"/><path d="M1076.5 520.0L1075.3 533.6" stroke-width="2.5"/><path d="M1091.7 511.8L1090.3 525.6" stroke-width="2.1"/><path d="M938.6 587.3L938.2 598.7" stroke-width="6.0"/><path d="M974.6 578.7L974.1 590.7" stroke-width="5.1"/><path d="M1005.2 570.1L1004.5 582.7" stroke-width="4.3"/><path d="M1031.1 561.6L1030.2 574.6" stroke-width="3.6"/><path d="M1053.0 553.2L1052.0 566.5" stroke-width="3.1"/><path d="M1071.6 544.7L1070.4 558.3" stroke-width="2.6"/><path d="M1087.3 536.3L1086.0 550.1" stroke-width="2.2"/><path d="M965.7 604.1L965.2 616.0" stroke-width="5.3"/><path d="M997.4 595.4L996.8 607.8" stroke-width="4.5"/><path d="M1024.4 586.7L1023.5 599.6" stroke-width="3.8"/><path d="M1047.2 578.1L1046.2 591.4" stroke-width="3.2"/><path d="M1066.5 569.5L1065.4 583.1" stroke-width="2.7"/><path d="M1082.9 561.0L1081.6 574.7" stroke-width="2.3"/><path d="M1096.8 552.5L1095.3 566.3" stroke-width="2.0"/><path d="M956.4 629.7L956.0 641.3" stroke-width="5.5"/><path d="M989.4 620.8L988.8 633.1" stroke-width="4.7"/><path d="M1017.4 611.9L1016.7 624.7" stroke-width="4.0"/><path d="M1041.1 603.1L1040.2 616.3" stroke-width="3.3"/><path d="M1061.3 594.4L1060.2 607.9" stroke-width="2.8"/><path d="M1078.3 585.7L1077.0 599.4" stroke-width="2.4"/><path d="M1092.7 577.0L1091.3 590.9" stroke-width="2.0"/><path d="M946.8 655.3L946.4 666.8" stroke-width="5.7"/><path d="M981.2 646.2L980.6 658.4" stroke-width="4.9"/><path d="M1010.3 637.2L1009.5 649.9" stroke-width="4.1"/><path d="M1034.9 628.2L1034.0 641.3" stroke-width="3.5"/><path d="M1055.8 619.4L1054.8 632.8" stroke-width="3.0"/><path d="M1073.6 610.5L1072.3 624.1" stroke-width="2.5"/><path d="M1088.6 601.7L1087.2 615.5" stroke-width="2.1"/><path d="M936.9 680.9L936.5 692.3" stroke-width="6.0"/><path d="M972.6 671.7L972.1 683.7" stroke-width="5.1"/><path d="M1002.9 662.5L1002.2 675.1" stroke-width="4.3"/><path d="M1028.5 653.4L1027.6 666.4" stroke-width="3.6"/><path d="M1050.2 644.4L1049.2 657.7" stroke-width="3.1"/><path d="M1068.7 635.4L1067.5 648.9" stroke-width="2.6"/><path d="M1084.3 626.4L1083.0 640.1" stroke-width="2.2"/></g>
<g stroke="#bec1c5" stroke-linecap="round" fill="none"><path d="M952.7 351.5L952.3 363.0" stroke-width="5.7"/><path d="M988.0 344.4L987.4 356.6" stroke-width="4.9"/><path d="M1018.0 337.3L1017.2 350.0" stroke-width="4.1"/><path d="M1043.4 330.3L1042.5 343.4" stroke-width="3.5"/><path d="M1064.9 323.3L1063.8 336.7" stroke-width="3.0"/><path d="M1083.1 316.4L1081.9 330.0" stroke-width="2.5"/><path d="M1098.6 309.5L1097.2 323.3" stroke-width="2.1"/><path d="M942.5 376.7L942.1 388.1" stroke-width="6.0"/><path d="M979.2 369.4L978.7 381.4" stroke-width="5.1"/><path d="M1010.4 362.2L1009.7 374.8" stroke-width="4.3"/><path d="M1036.8 355.0L1035.9 368.0" stroke-width="3.6"/><path d="M1059.2 347.9L1058.1 361.2" stroke-width="3.1"/><path d="M1078.1 340.8L1076.9 354.4" stroke-width="2.6"/><path d="M1094.2 333.7L1092.9 347.5" stroke-width="2.2"/><path d="M970.1 394.5L969.6 406.4" stroke-width="5.3"/><path d="M1002.5 387.1L1001.8 399.6" stroke-width="4.5"/><path d="M1030.0 379.8L1029.1 392.7" stroke-width="3.8"/><path d="M1053.2 372.5L1052.3 385.8" stroke-width="3.2"/><path d="M1073.0 365.3L1071.8 378.8" stroke-width="2.7"/><path d="M1089.7 358.1L1088.4 371.8" stroke-width="2.3"/><path d="M1103.9 350.9L1102.4 364.7" stroke-width="2.0"/><path d="M960.7 419.7L960.2 431.4" stroke-width="5.5"/><path d="M994.4 412.2L993.7 424.5" stroke-width="4.7"/><path d="M1022.9 404.7L1022.1 417.4" stroke-width="4.0"/><path d="M1047.1 397.2L1046.2 410.4" stroke-width="3.3"/><path d="M1067.6 389.8L1066.5 403.3" stroke-width="2.8"/><path d="M1085.0 382.4L1083.8 396.1" stroke-width="2.4"/><path d="M1099.8 375.1L1098.3 388.9" stroke-width="2.0"/><path d="M950.9 445.0L950.5 456.5" stroke-width="5.7"/><path d="M985.9 437.3L985.3 449.4" stroke-width="4.9"/><path d="M1015.6 429.6L1014.9 442.3" stroke-width="4.1"/><path d="M1040.8 422.0L1039.9 435.1" stroke-width="3.5"/><path d="M1062.1 414.4L1061.0 427.8" stroke-width="3.0"/><path d="M1080.2 406.9L1079.0 420.5" stroke-width="2.5"/><path d="M1095.5 399.4L1094.1 413.2" stroke-width="2.1"/><path d="M940.8 470.3L940.4 481.7" stroke-width="6.0"/><path d="M977.2 462.4L976.6 474.4" stroke-width="5.1"/><path d="M1008.1 454.6L1007.4 467.2" stroke-width="4.3"/><path d="M1034.2 446.8L1033.4 459.8" stroke-width="3.6"/><path d="M1056.4 439.1L1055.4 452.4" stroke-width="3.1"/><path d="M1075.2 431.4L1074.0 445.0" stroke-width="2.6"/><path d="M1091.2 423.8L1089.8 437.5" stroke-width="2.2"/><path d="M968.1 487.7L967.6 499.5" stroke-width="5.3"/><path d="M1000.3 479.7L999.6 492.1" stroke-width="4.5"/><path d="M1027.5 471.8L1026.7 484.7" stroke-width="3.8"/><path d="M1050.5 463.9L1049.6 477.1" stroke-width="3.2"/><path d="M1070.1 456.0L1068.9 469.6" stroke-width="2.7"/><path d="M1086.7 448.2L1085.4 462.0" stroke-width="2.3"/><path d="M1100.7 440.5L1099.3 454.3" stroke-width="2.0"/><path d="M958.8 513.0L958.3 524.7" stroke-width="5.5"/><path d="M992.2 504.9L991.6 517.2" stroke-width="4.7"/><path d="M1020.5 496.8L1019.7 509.6" stroke-width="4.0"/><path d="M1044.5 488.7L1043.5 501.9" stroke-width="3.3"/><path d="M1064.8 480.7L1063.7 494.2" stroke-width="2.8"/><path d="M1082.0 472.8L1080.8 486.5" stroke-width="2.4"/><path d="M1096.6 464.9L1095.2 478.7" stroke-width="2.0"/><path d="M949.1 538.4L948.7 550.0" stroke-width="5.7"/><path d="M983.8 530.1L983.2 542.3" stroke-width="4.9"/><path d="M1013.2 521.9L1012.5 534.5" stroke-width="4.1"/><path d="M1038.2 513.7L1037.3 526.7" stroke-width="3.5"/><path d="M1059.3 505.5L1058.3 518.9" stroke-width="3.0"/><path d="M1077.2 497.4L1076.0 511.0" stroke-width="2.5"/><path d="M1092.4 489.3L1091.1 503.1" stroke-width="2.1"/><path d="M939.0 563.9L938.6 575.3" stroke-width="6.0"/><path d="M975.1 555.4L974.6 567.5" stroke-width="5.1"/><path d="M1005.8 547.0L1005.1 559.6" stroke-width="4.3"/><path d="M1031.7 538.7L1030.8 551.7" stroke-width="3.6"/><path d="M1053.7 530.3L1052.7 543.7" stroke-width="3.1"/><path d="M1072.3 522.1L1071.1 535.6" stroke-width="2.6"/><path d="M1088.1 513.8L1086.8 527.6" stroke-width="2.2"/><path d="M966.2 580.9L965.7 592.7" stroke-width="5.3"/><path d="M998.0 572.3L997.3 584.7" stroke-width="4.5"/><path d="M1025.0 563.7L1024.2 576.6" stroke-width="3.8"/><path d="M1047.8 555.3L1046.9 568.5" stroke-width="3.2"/><path d="M1067.2 546.8L1066.1 560.4" stroke-width="2.7"/><path d="M1083.6 538.4L1082.3 552.2" stroke-width="2.3"/><path d="M1097.6 530.1L1096.1 543.9" stroke-width="2.0"/><path d="M956.9 606.3L956.4 618.0" stroke-width="5.5"/><path d="M990.0 597.6L989.4 609.9" stroke-width="4.7"/><path d="M1018.0 588.9L1017.3 601.7" stroke-width="4.0"/><path d="M1041.8 580.3L1040.9 593.4" stroke-width="3.3"/><path d="M1062.0 571.7L1060.9 585.1" stroke-width="2.8"/><path d="M1079.0 563.1L1077.8 576.8" stroke-width="2.4"/><path d="M1093.5 554.6L1092.1 568.4" stroke-width="2.0"/><path d="M947.3 631.9L946.9 643.4" stroke-width="5.7"/><path d="M981.7 623.0L981.1 635.1" stroke-width="4.9"/><path d="M1010.9 614.1L1010.1 626.8" stroke-width="4.1"/><path d="M1035.6 605.3L1034.7 618.4" stroke-width="3.5"/><path d="M1056.5 596.6L1055.5 610.0" stroke-width="3.0"/><path d="M1074.3 587.9L1073.1 601.5" stroke-width="2.5"/><path d="M1089.4 579.2L1088.0 593.0" stroke-width="2.1"/><path d="M937.3 657.5L936.9 668.9" stroke-width="6.0"/><path d="M973.1 648.5L972.6 660.5" stroke-width="5.1"/><path d="M1003.4 639.4L1002.7 652.0" stroke-width="4.3"/><path d="M1029.1 630.5L1028.3 643.5" stroke-width="3.6"/><path d="M1050.9 621.6L1049.9 634.9" stroke-width="3.1"/><path d="M1069.4 612.7L1068.2 626.3" stroke-width="2.6"/><path d="M1085.1 603.9L1083.7 617.6" stroke-width="2.2"/><path d="M964.2 674.0L963.7 685.9" stroke-width="5.3"/><path d="M995.8 664.8L995.1 677.3" stroke-width="4.5"/><path d="M1022.5 655.7L1021.7 668.6" stroke-width="3.8"/><path d="M1045.1 646.6L1044.2 659.9" stroke-width="3.2"/><path d="M1064.3 637.6L1063.2 651.1" stroke-width="2.7"/><path d="M1080.6 628.6L1079.3 642.3" stroke-width="2.3"/><path d="M1094.4 619.7L1093.0 633.5" stroke-width="2.0"/></g>
</g>
<!-- wheels -->
<g id="wheels">
<path d="M117.5 1108 C117 1100 124 1098 132 1102 L152 1120 C153 1128 146 1134 138 1134 C128 1134 119 1124 117.5 1108 Z" fill="#0a0a0a"/>
<ellipse cx="136" cy="1118" rx="17" ry="16" fill="#0a0a0a"/>
<path d="M322.5 1165 C322.5 1152 332 1148 345 1149 L370 1152 C376 1160 376 1176 372 1184 C366 1194 352 1196 342 1192 C330 1187 322.5 1178 322.5 1165 Z" fill="#0a0a0a"/>
<ellipse cx="356" cy="1178" rx="15" ry="13" fill="#1a1a1a"/>
</g>

<!-- body -->
<g id="body">
<!-- main body front -->
<path d="M100 258 C104 300 108 360 110 480 L110.5 1064 C111 1085 113 1094 118 1098 C140 1118 165 1130 187 1137 C230 1146 280 1152 340 1154 L430 1156 L560 1100 L566 690 L584 652 C588 500 590 350 594 252 Z" fill="url(#gFront)"/>
<path d="M182 270 L594 252 L584 652 L566 690 L560 1100 L430 1156 L340 1154 C280 1152 230 1146 187 1137 Z" fill="url(#gFrontV)"/>
<!-- side panel -->
<path d="M100 258 C104 300 108 360 110 480 L110.5 1064 C111 1085 113 1094 118 1098 C140 1118 165 1130 188.3 1137.5 L187 700 C187 500 185 380 180 280 Z" fill="url(#gSide)"/>
<path d="M180 280 C185 380 187 500 187 700 L188.3 1137.5" fill="none" stroke="#c3c6cc" stroke-width="1.2"/>
<path d="M183 284 C188 380 190 500 190 700 L191 1137" fill="none" stroke="#f6f7f8" stroke-width="3" opacity="0.9"/>
<!-- silver band -->
<path d="M109.1 396 C115 399.5 121 402 127.3 403.9 C138 408 148 411.5 159.1 414.2 L175.9 416 L175.9 445 L159.1 441.2 C148 439.5 138 437 127.3 433.8 C121 431.5 115 428.5 109.1 424.4 Z" fill="url(#gSilver)"/>
<!-- ovals -->
<path d="M243.5 347 C250 334 284 331 295 343 C292 359 254 362 243.5 347 Z" fill="#fbfbfc"/>
<path d="M244.5 346 C251 335 284 332.5 294 343 C284 346 258 348 244.5 346 Z" fill="#b4b8be"/>
<path d="M246 347 C258 347.5 282 346 293.5 343.5 C290 356 256 359 246 347 Z" fill="#d3d6db"/>
<path d="M242 729 C249 716 282 714 292 725 C289 741 253 744 242 729 Z" fill="#fdfdfd"/>
<path d="M243 728 C250 717 282 715 291 725 C282 728 256 730 243 728 Z" fill="#c6c9ce"/>
<path d="M245 729.5 C256 730 280 728 290.5 725.5 C287 738 255 741 245 729.5 Z" fill="#e3e5e9"/>
<!-- top ring -->
<path d="M100.4 262 C100.4 256 106 253 116 252 L594 244 C596.5 247 596.5 251 595.2 254 L593.6 258.8 C584 262 572 264.5 560 266.8 C548 269.5 534 272 520 274 C506 276 494 277.5 480 278.8 C455 282.5 432 285.5 410 287 C390 288 370 288.6 350 288.6 C330 288.6 310 288.4 290 288 C262 287 236 284.5 210 282 C196 281 183 280.4 170 279.6 C156 278.5 143 277 130 274.8 C120 273 108 271 102 268 Z" fill="#7f8387"/>
<path d="M102 268 C108 271 120 273 130 274.8 C143 277 156 278.5 170 279.6 C183 280.4 196 281 210 282 C236 284.5 262 287 290 288 C310 288.4 330 288.6 350 288.6 C370 288.6 390 288 410 287 C432 285.5 455 282.5 480 278.8" fill="none" stroke="#d9dcdf" stroke-width="1.2" opacity="0.9"/>
<!-- lid underside (dark band) -->
<path id="lidU" d="M99.2 231.6 L116.4 254 C119 257 122 259.5 125 262 C129 265 133 267.5 138 269 C150 271.5 163 272.8 176 273.5 C187 274.3 198 275 210 275.6 C228 277.3 246 279 263 280 C292 283 321 284.4 350 284.4 C370 284.4 390 284 410 283 C434 281.5 457 279 480 276.4 C494 275 507 273 520 270.8 C534 268.5 548 265.5 560 262 C568 258 576 253.5 581.6 247.6 C587 243.5 592 240 595 236 L597.2 226 Z" fill="#585c60"/>
<clipPath id="cLidU"><path d="M99.2 231.6 L116.4 254 C119 257 122 259.5 125 262 C129 265 133 267.5 138 269 C150 271.5 163 272.8 176 273.5 C187 274.3 198 275 210 275.6 C228 277.3 246 279 263 280 C292 283 321 284.4 350 284.4 C370 284.4 390 284 410 283 C434 281.5 457 279 480 276.4 C494 275 507 273 520 270.8 C534 268.5 548 265.5 560 262 C568 258 576 253.5 581.6 247.6 C587 243.5 592 240 595 236 L597.2 226 Z"/></clipPath>
<g clip-path="url(#cLidU)"><path d="M120 250 C150 258 190 262.5 230 265 C270 267.5 310 268.6 350 268.6 C400 268.4 450 265 500 258 C540 252 570 245 588 237" fill="none" stroke="#3e4145" stroke-width="17" filter="url(#blur2)" stroke-linecap="round"/></g>
<!-- lid top + rim -->
<path d="M99.2 231.6 C103 227 107 225 112.5 223.3 C127 219 143 215.5 159 213 C182 210 205 207.5 228.6 206 C263 203.5 298 201.8 332.6 200.8 L350 199.6 L410 199.6 C434 199.8 457 200.6 480 202 C496 202.8 512 203.8 528 205.2 C539 206.5 550 208.5 560 210.8 C569 212.5 577 214.5 584 217.2 C590 219.5 595 222.5 597.2 226 C590 229.5 575 232.5 560 234.8 C547 236.8 534 238.4 520 239.6 C507 241.4 494 243 480 244.4 C457 247.5 434 250 410 251 C390 251.5 370 251.6 350 251.6 L300 251 C270 250.6 240 249.8 210 248.4 C196 247.8 183 247 170 246 C156 244.5 143 242.5 130 239.6 C118 237.5 107 235.5 99.6 233.2 Z" fill="#969a9e"/>
<path d="M106 231 C108 226 125 220 160 215.5 C210 209 280 205 350 204 C420 203.5 480 204.5 520 208 C560 211.5 586 217 588 224 C588 228 560 231.5 520 234 C470 238 420 240.5 350 241 C290 241 220 239.5 176 237.5 C140 235.5 106 234 106 231 Z" fill="#a6aaad"/>
<path d="M296.4 249.6 L358 249.6" stroke="#e4e7ea" stroke-width="1.5" stroke-linecap="round"/>
<path d="M155 227 C155 215 250 206 370 205.5 C480 205.5 568 210 570 221 C570 230 480 236 360 236.5 C240 237 155 235 155 227 Z" fill="#adb1b4"/>
<path d="M155 227 C155 215 250 206 370 205.5 C480 205.5 568 210 570 221 C570 230 480 236 360 236.5 C240 237 155 235 155 227 Z" fill="none" stroke="#8b8f93" stroke-width="1.2"/>
<path d="M236 232 L330 219 L420 211 L510 207.5" fill="none" stroke="#8a8e92" stroke-width="1.3"/>
<path d="M262 229 C330 221 420 215 520 214" fill="none" stroke="#979b9f" stroke-width="1"/>
<path d="M205 233 L240 230" stroke="#7d8184" stroke-width="2"/>
<path d="M428 226 L470 221 L512 222 L470 228 Z" fill="#85898c"/>
</g>

<!-- grid -->
<g id="grid">
<path d="M355.5 334 Q355.5 320 370 316 L571 286 L588 282 L588 640 L582.7 652.5 C540 672 470 700 368 715 C358 716 357 712 357 704 Z" fill="#f3f4f6"/>
<linearGradient id="gBand" x1="300" x2="430" y1="0" y2="0" gradientUnits="userSpaceOnUse"><stop offset="0" stop-color="#c6c9cd" stop-opacity="0"/><stop offset="1" stop-color="#c6c9cd"/></linearGradient><path d="M300 289 L350 289.6 C400 289 455 283.5 480 279.8 C520 275 560 268 593.6 259.8 L592 284 L571 286 L372 316 Q364 318 360 322 L300 322 Z" fill="url(#gBand)"/>
<path d="M573.5 287 L590 284 L584 640 L566 636 Z" fill="#e9ebee"/>
<path d="M568.7 288 L573.5 287 L566 636 L560 632 Z" fill="#fdfdfd"/>
<linearGradient id="gTeal" x1="0" y1="300" x2="0" y2="700" gradientUnits="userSpaceOnUse"><stop offset="0" stop-color="#224e58"/><stop offset="0.5" stop-color="#204b55"/><stop offset="1" stop-color="#22515b"/></linearGradient>
<clipPath id="cGrid"><path d="M358 336 Q358 322 372 318 L568.7 288.3 L560 631.7 L374 699 Q363 703 363 692 Z"/></clipPath>
<g clip-path="url(#cGrid)">
<rect x="350" y="280" width="230" height="440" fill="url(#gTeal)"/>
<path d="M357 352.0 L569 320.2" stroke="#1b6f7a" stroke-width="8" opacity="0.45"/>
<path d="M357 352.0 L569 320.2" stroke="#1f96a1" stroke-width="3" opacity="0.85"/>
<path d="M357 384.0 L569 350.3" stroke="#1b6f7a" stroke-width="8" opacity="0.45"/>
<path d="M357 384.0 L569 350.3" stroke="#1f96a1" stroke-width="3" opacity="0.85"/>
<path d="M357 416.0 L569 380.3" stroke="#1b6f7a" stroke-width="8" opacity="0.45"/>
<path d="M357 416.0 L569 380.3" stroke="#1f96a1" stroke-width="3" opacity="0.85"/>
<path d="M357 448.0 L569 410.4" stroke="#1b6f7a" stroke-width="8" opacity="0.45"/>
<path d="M357 448.0 L569 410.4" stroke="#1f96a1" stroke-width="3" opacity="0.85"/>
<path d="M357 480.0 L569 440.5" stroke="#1b6f7a" stroke-width="8" opacity="0.45"/>
<path d="M357 480.0 L569 440.5" stroke="#1f96a1" stroke-width="3" opacity="0.85"/>
<path d="M357 512.0 L569 470.6" stroke="#1b6f7a" stroke-width="8" opacity="0.45"/>
<path d="M357 512.0 L569 470.6" stroke="#1f96a1" stroke-width="3" opacity="0.85"/>
<path d="M357 544.0 L569 500.6" stroke="#1b6f7a" stroke-width="8" opacity="0.45"/>
<path d="M357 544.0 L569 500.6" stroke="#1f96a1" stroke-width="3" opacity="0.85"/>
<path d="M357 576.0 L569 530.7" stroke="#1b6f7a" stroke-width="8" opacity="0.45"/>
<path d="M357 576.0 L569 530.7" stroke="#1f96a1" stroke-width="3" opacity="0.85"/>
<path d="M357 608.0 L569 560.8" stroke="#1b6f7a" stroke-width="8" opacity="0.45"/>
<path d="M357 608.0 L569 560.8" stroke="#1f96a1" stroke-width="3" opacity="0.85"/>
<path d="M357 640.0 L569 590.9" stroke="#1b6f7a" stroke-width="8" opacity="0.45"/>
<path d="M357 640.0 L569 590.9" stroke="#1f96a1" stroke-width="3" opacity="0.85"/>
<path d="M357 672.0 L569 620.9" stroke="#1b6f7a" stroke-width="8" opacity="0.45"/>
<path d="M357 672.0 L569 620.9" stroke="#1f96a1" stroke-width="3" opacity="0.85"/>
<path d="M357 704.0 L569 651.0" stroke="#1b6f7a" stroke-width="8" opacity="0.45"/>
<path d="M357 704.0 L569 651.0" stroke="#1f96a1" stroke-width="3" opacity="0.85"/>
<path d="M357 736.0 L569 681.1" stroke="#1b6f7a" stroke-width="8" opacity="0.45"/>
<path d="M357 736.0 L569 681.1" stroke="#1f96a1" stroke-width="3" opacity="0.85"/>
<path d="M361.5 319.5 L366.3 701.8" stroke="#4b7e86" stroke-width="0.6" opacity="0.35"/>
<path d="M365.0 318.9 L369.6 700.6" stroke="#4b7e86" stroke-width="0.6" opacity="0.35"/>
<path d="M368.5 318.4 L372.9 699.4" stroke="#4b7e86" stroke-width="0.6" opacity="0.35"/>
<path d="M372.0 317.9 L376.1 698.2" stroke="#4b7e86" stroke-width="0.6" opacity="0.35"/>
<path d="M375.6 317.4 L379.4 697.1" stroke="#4b7e86" stroke-width="0.6" opacity="0.35"/>
<path d="M379.1 316.8 L382.7 695.9" stroke="#4b7e86" stroke-width="0.6" opacity="0.35"/>
<path d="M382.6 316.3 L386.0 694.7" stroke="#4b7e86" stroke-width="0.6" opacity="0.35"/>
<path d="M386.1 315.8 L389.3 693.5" stroke="#4b7e86" stroke-width="0.6" opacity="0.35"/>
<path d="M389.6 315.2 L392.6 692.3" stroke="#4b7e86" stroke-width="0.6" opacity="0.35"/>
<path d="M393.1 314.7 L395.8 691.1" stroke="#4b7e86" stroke-width="0.6" opacity="0.35"/>
<path d="M396.6 314.2 L399.1 689.9" stroke="#4b7e86" stroke-width="0.6" opacity="0.35"/>
<path d="M400.1 313.7 L402.4 688.7" stroke="#4b7e86" stroke-width="0.6" opacity="0.35"/>
<path d="M403.7 313.1 L405.7 687.6" stroke="#4b7e86" stroke-width="0.6" opacity="0.35"/>
<path d="M407.2 312.6 L409.0 686.4" stroke="#4b7e86" stroke-width="0.6" opacity="0.35"/>
<path d="M410.7 312.1 L412.2 685.2" stroke="#4b7e86" stroke-width="0.6" opacity="0.35"/>
<path d="M414.2 311.5 L415.5 684.0" stroke="#4b7e86" stroke-width="0.6" opacity="0.35"/>
<path d="M417.7 311.0 L418.8 682.8" stroke="#4b7e86" stroke-width="0.6" opacity="0.35"/>
<path d="M421.2 310.5 L422.1 681.6" stroke="#4b7e86" stroke-width="0.6" opacity="0.35"/>
<path d="M424.7 310.0 L425.4 680.4" stroke="#4b7e86" stroke-width="0.6" opacity="0.35"/>
<path d="M428.2 309.4 L428.7 679.2" stroke="#4b7e86" stroke-width="0.6" opacity="0.35"/>
<path d="M431.7 308.9 L431.9 678.0" stroke="#4b7e86" stroke-width="0.6" opacity="0.35"/>
<path d="M435.3 308.4 L435.2 676.9" stroke="#4b7e86" stroke-width="0.6" opacity="0.35"/>
<path d="M438.8 307.8 L438.5 675.7" stroke="#4b7e86" stroke-width="0.6" opacity="0.35"/>
<path d="M442.3 307.3 L441.8 674.5" stroke="#4b7e86" stroke-width="0.6" opacity="0.35"/>
<path d="M445.8 306.8 L445.1 673.3" stroke="#4b7e86" stroke-width="0.6" opacity="0.35"/>
<path d="M449.3 306.3 L448.4 672.1" stroke="#4b7e86" stroke-width="0.6" opacity="0.35"/>
<path d="M452.8 305.7 L451.6 670.9" stroke="#4b7e86" stroke-width="0.6" opacity="0.35"/>
<path d="M456.3 305.2 L454.9 669.7" stroke="#4b7e86" stroke-width="0.6" opacity="0.35"/>
<path d="M459.8 304.7 L458.2 668.5" stroke="#4b7e86" stroke-width="0.6" opacity="0.35"/>
<path d="M463.4 304.1 L461.5 667.4" stroke="#4b7e86" stroke-width="0.6" opacity="0.35"/>
<path d="M466.9 303.6 L464.8 666.2" stroke="#4b7e86" stroke-width="0.6" opacity="0.35"/>
<path d="M470.4 303.1 L468.1 665.0" stroke="#4b7e86" stroke-width="0.6" opacity="0.35"/>
<path d="M473.9 302.6 L471.4 663.8" stroke="#4b7e86" stroke-width="0.6" opacity="0.35"/>
<path d="M477.4 302.0 L474.6 662.6" stroke="#4b7e86" stroke-width="0.6" opacity="0.35"/>
<path d="M480.9 301.5 L477.9 661.4" stroke="#4b7e86" stroke-width="0.6" opacity="0.35"/>
<path d="M484.4 301.0 L481.2 660.2" stroke="#4b7e86" stroke-width="0.6" opacity="0.35"/>
<path d="M487.9 300.5 L484.5 659.0" stroke="#4b7e86" stroke-width="0.6" opacity="0.35"/>
<path d="M491.4 299.9 L487.8 657.8" stroke="#4b7e86" stroke-width="0.6" opacity="0.35"/>
<path d="M495.0 299.4 L491.1 656.7" stroke="#4b7e86" stroke-width="0.6" opacity="0.35"/>
<path d="M498.5 298.9 L494.3 655.5" stroke="#4b7e86" stroke-width="0.6" opacity="0.35"/>
<path d="M502.0 298.3 L497.6 654.3" stroke="#4b7e86" stroke-width="0.6" opacity="0.35"/>
<path d="M505.5 297.8 L500.9 653.1" stroke="#4b7e86" stroke-width="0.6" opacity="0.35"/>
<path d="M509.0 297.3 L504.2 651.9" stroke="#4b7e86" stroke-width="0.6" opacity="0.35"/>
<path d="M512.5 296.8 L507.5 650.7" stroke="#4b7e86" stroke-width="0.6" opacity="0.35"/>
<path d="M516.0 296.2 L510.8 649.5" stroke="#4b7e86" stroke-width="0.6" opacity="0.35"/>
<path d="M519.5 295.7 L514.0 648.3" stroke="#4b7e86" stroke-width="0.6" opacity="0.35"/>
<path d="M523.0 295.2 L517.3 647.1" stroke="#4b7e86" stroke-width="0.6" opacity="0.35"/>
<path d="M526.6 294.6 L520.6 646.0" stroke="#4b7e86" stroke-width="0.6" opacity="0.35"/>
<path d="M530.1 294.1 L523.9 644.8" stroke="#4b7e86" stroke-width="0.6" opacity="0.35"/>
<path d="M533.6 293.6 L527.2 643.6" stroke="#4b7e86" stroke-width="0.6" opacity="0.35"/>
<path d="M537.1 293.1 L530.5 642.4" stroke="#4b7e86" stroke-width="0.6" opacity="0.35"/>
<path d="M540.6 292.5 L533.7 641.2" stroke="#4b7e86" stroke-width="0.6" opacity="0.35"/>
<path d="M544.1 292.0 L537.0 640.0" stroke="#4b7e86" stroke-width="0.6" opacity="0.35"/>
<path d="M547.6 291.5 L540.3 638.8" stroke="#4b7e86" stroke-width="0.6" opacity="0.35"/>
<path d="M551.1 290.9 L543.6 637.6" stroke="#4b7e86" stroke-width="0.6" opacity="0.35"/>
<path d="M554.7 290.4 L546.9 636.5" stroke="#4b7e86" stroke-width="0.6" opacity="0.35"/>
<path d="M558.2 289.9 L550.1 635.3" stroke="#4b7e86" stroke-width="0.6" opacity="0.35"/>
<path d="M561.7 289.4 L553.4 634.1" stroke="#4b7e86" stroke-width="0.6" opacity="0.35"/>
<path d="M565.2 288.8 L556.7 632.9" stroke="#4b7e86" stroke-width="0.6" opacity="0.35"/>
<path d="M358.0 323.5 L568.6 291.4" stroke="#10343c" stroke-width="0.7" opacity="0.35"/>
<path d="M358.1 327.0 L568.5 294.5" stroke="#10343c" stroke-width="0.7" opacity="0.35"/>
<path d="M358.1 330.4 L568.5 297.7" stroke="#10343c" stroke-width="0.7" opacity="0.35"/>
<path d="M358.2 333.9 L568.4 300.8" stroke="#10343c" stroke-width="0.7" opacity="0.35"/>
<path d="M358.2 337.4 L568.3 303.9" stroke="#10343c" stroke-width="0.7" opacity="0.35"/>
<path d="M358.3 340.9 L568.2 307.0" stroke="#10343c" stroke-width="0.7" opacity="0.35"/>
<path d="M358.3 344.4 L568.1 310.2" stroke="#10343c" stroke-width="0.7" opacity="0.35"/>
<path d="M358.4 347.9 L568.1 313.3" stroke="#10343c" stroke-width="0.7" opacity="0.35"/>
<path d="M358.4 351.3 L568.0 316.4" stroke="#10343c" stroke-width="0.7" opacity="0.35"/>
<path d="M358.5 354.8 L567.9 319.5" stroke="#10343c" stroke-width="0.7" opacity="0.35"/>
<path d="M358.5 358.3 L567.8 322.6" stroke="#10343c" stroke-width="0.7" opacity="0.35"/>
<path d="M358.5 361.8 L567.8 325.8" stroke="#10343c" stroke-width="0.7" opacity="0.35"/>
<path d="M358.6 365.3 L567.7 328.9" stroke="#10343c" stroke-width="0.7" opacity="0.35"/>
<path d="M358.6 368.7 L567.6 332.0" stroke="#10343c" stroke-width="0.7" opacity="0.35"/>
<path d="M358.7 372.2 L567.5 335.1" stroke="#10343c" stroke-width="0.7" opacity="0.35"/>
<path d="M358.7 375.7 L567.4 338.2" stroke="#10343c" stroke-width="0.7" opacity="0.35"/>
<path d="M358.8 379.2 L567.4 341.4" stroke="#10343c" stroke-width="0.7" opacity="0.35"/>
<path d="M358.8 382.7 L567.3 344.5" stroke="#10343c" stroke-width="0.7" opacity="0.35"/>
<path d="M358.9 386.2 L567.2 347.6" stroke="#10343c" stroke-width="0.7" opacity="0.35"/>
<path d="M358.9 389.6 L567.1 350.7" stroke="#10343c" stroke-width="0.7" opacity="0.35"/>
<path d="M359.0 393.1 L567.0 353.9" stroke="#10343c" stroke-width="0.7" opacity="0.35"/>
<path d="M359.0 396.6 L567.0 357.0" stroke="#10343c" stroke-width="0.7" opacity="0.35"/>
<path d="M359.0 400.1 L566.9 360.1" stroke="#10343c" stroke-width="0.7" opacity="0.35"/>
<path d="M359.1 403.6 L566.8 363.2" stroke="#10343c" stroke-width="0.7" opacity="0.35"/>
<path d="M359.1 407.0 L566.7 366.3" stroke="#10343c" stroke-width="0.7" opacity="0.35"/>
<path d="M359.2 410.5 L566.6 369.5" stroke="#10343c" stroke-width="0.7" opacity="0.35"/>
<path d="M359.2 414.0 L566.6 372.6" stroke="#10343c" stroke-width="0.7" opacity="0.35"/>
<path d="M359.3 417.5 L566.5 375.7" stroke="#10343c" stroke-width="0.7" opacity="0.35"/>
<path d="M359.3 421.0 L566.4 378.8" stroke="#10343c" stroke-width="0.7" opacity="0.35"/>
<path d="M359.4 424.5 L566.3 382.0" stroke="#10343c" stroke-width="0.7" opacity="0.35"/>
<path d="M359.4 427.9 L566.2 385.1" stroke="#10343c" stroke-width="0.7" opacity="0.35"/>
<path d="M359.5 431.4 L566.2 388.2" stroke="#10343c" stroke-width="0.7" opacity="0.35"/>
<path d="M359.5 434.9 L566.1 391.3" stroke="#10343c" stroke-width="0.7" opacity="0.35"/>
<path d="M359.5 438.4 L566.0 394.4" stroke="#10343c" stroke-width="0.7" opacity="0.35"/>
<path d="M359.6 441.9 L565.9 397.6" stroke="#10343c" stroke-width="0.7" opacity="0.35"/>
<path d="M359.6 445.3 L565.9 400.7" stroke="#10343c" stroke-width="0.7" opacity="0.35"/>
<path d="M359.7 448.8 L565.8 403.8" stroke="#10343c" stroke-width="0.7" opacity="0.35"/>
<path d="M359.7 452.3 L565.7 406.9" stroke="#10343c" stroke-width="0.7" opacity="0.35"/>
<path d="M359.8 455.8 L565.6 410.1" stroke="#10343c" stroke-width="0.7" opacity="0.35"/>
<path d="M359.8 459.3 L565.5 413.2" stroke="#10343c" stroke-width="0.7" opacity="0.35"/>
<path d="M359.9 462.8 L565.5 416.3" stroke="#10343c" stroke-width="0.7" opacity="0.35"/>
<path d="M359.9 466.2 L565.4 419.4" stroke="#10343c" stroke-width="0.7" opacity="0.35"/>
<path d="M360.0 469.7 L565.3 422.5" stroke="#10343c" stroke-width="0.7" opacity="0.35"/>
<path d="M360.0 473.2 L565.2 425.7" stroke="#10343c" stroke-width="0.7" opacity="0.35"/>
<path d="M360.0 476.7 L565.1 428.8" stroke="#10343c" stroke-width="0.7" opacity="0.35"/>
<path d="M360.1 480.2 L565.1 431.9" stroke="#10343c" stroke-width="0.7" opacity="0.35"/>
<path d="M360.1 483.6 L565.0 435.0" stroke="#10343c" stroke-width="0.7" opacity="0.35"/>
<path d="M360.2 487.1 L564.9 438.1" stroke="#10343c" stroke-width="0.7" opacity="0.35"/>
<path d="M360.2 490.6 L564.8 441.3" stroke="#10343c" stroke-width="0.7" opacity="0.35"/>
<path d="M360.3 494.1 L564.7 444.4" stroke="#10343c" stroke-width="0.7" opacity="0.35"/>
<path d="M360.3 497.6 L564.7 447.5" stroke="#10343c" stroke-width="0.7" opacity="0.35"/>
<path d="M360.4 501.1 L564.6 450.6" stroke="#10343c" stroke-width="0.7" opacity="0.35"/>
<path d="M360.4 504.5 L564.5 453.8" stroke="#10343c" stroke-width="0.7" opacity="0.35"/>
<path d="M360.5 508.0 L564.4 456.9" stroke="#10343c" stroke-width="0.7" opacity="0.35"/>
<path d="M360.5 511.5 L564.4 460.0" stroke="#10343c" stroke-width="0.7" opacity="0.35"/>
<path d="M360.5 515.0 L564.3 463.1" stroke="#10343c" stroke-width="0.7" opacity="0.35"/>
<path d="M360.6 518.5 L564.2 466.2" stroke="#10343c" stroke-width="0.7" opacity="0.35"/>
<path d="M360.6 521.9 L564.1 469.4" stroke="#10343c" stroke-width="0.7" opacity="0.35"/>
<path d="M360.7 525.4 L564.0 472.5" stroke="#10343c" stroke-width="0.7" opacity="0.35"/>
<path d="M360.7 528.9 L564.0 475.6" stroke="#10343c" stroke-width="0.7" opacity="0.35"/>
<path d="M360.8 532.4 L563.9 478.7" stroke="#10343c" stroke-width="0.7" opacity="0.35"/>
<path d="M360.8 535.9 L563.8 481.9" stroke="#10343c" stroke-width="0.7" opacity="0.35"/>
<path d="M360.9 539.4 L563.7 485.0" stroke="#10343c" stroke-width="0.7" opacity="0.35"/>
<path d="M360.9 542.8 L563.6 488.1" stroke="#10343c" stroke-width="0.7" opacity="0.35"/>
<path d="M361.0 546.3 L563.6 491.2" stroke="#10343c" stroke-width="0.7" opacity="0.35"/>
<path d="M361.0 549.8 L563.5 494.3" stroke="#10343c" stroke-width="0.7" opacity="0.35"/>
<path d="M361.0 553.3 L563.4 497.5" stroke="#10343c" stroke-width="0.7" opacity="0.35"/>
<path d="M361.1 556.8 L563.3 500.6" stroke="#10343c" stroke-width="0.7" opacity="0.35"/>
<path d="M361.1 560.2 L563.2 503.7" stroke="#10343c" stroke-width="0.7" opacity="0.35"/>
<path d="M361.2 563.7 L563.2 506.8" stroke="#10343c" stroke-width="0.7" opacity="0.35"/>
<path d="M361.2 567.2 L563.1 509.9" stroke="#10343c" stroke-width="0.7" opacity="0.35"/>
<path d="M361.3 570.7 L563.0 513.1" stroke="#10343c" stroke-width="0.7" opacity="0.35"/>
<path d="M361.3 574.2 L562.9 516.2" stroke="#10343c" stroke-width="0.7" opacity="0.35"/>
<path d="M361.4 577.7 L562.8 519.3" stroke="#10343c" stroke-width="0.7" opacity="0.35"/>
<path d="M361.4 581.1 L562.8 522.4" stroke="#10343c" stroke-width="0.7" opacity="0.35"/>
<path d="M361.5 584.6 L562.7 525.6" stroke="#10343c" stroke-width="0.7" opacity="0.35"/>
<path d="M361.5 588.1 L562.6 528.7" stroke="#10343c" stroke-width="0.7" opacity="0.35"/>
<path d="M361.5 591.6 L562.5 531.8" stroke="#10343c" stroke-width="0.7" opacity="0.35"/>
<path d="M361.6 595.1 L562.5 534.9" stroke="#10343c" stroke-width="0.7" opacity="0.35"/>
<path d="M361.6 598.5 L562.4 538.0" stroke="#10343c" stroke-width="0.7" opacity="0.35"/>
<path d="M361.7 602.0 L562.3 541.2" stroke="#10343c" stroke-width="0.7" opacity="0.35"/>
<path d="M361.7 605.5 L562.2 544.3" stroke="#10343c" stroke-width="0.7" opacity="0.35"/>
<path d="M361.8 609.0 L562.1 547.4" stroke="#10343c" stroke-width="0.7" opacity="0.35"/>
<path d="M361.8 612.5 L562.1 550.5" stroke="#10343c" stroke-width="0.7" opacity="0.35"/>
<path d="M361.9 616.0 L562.0 553.7" stroke="#10343c" stroke-width="0.7" opacity="0.35"/>
<path d="M361.9 619.4 L561.9 556.8" stroke="#10343c" stroke-width="0.7" opacity="0.35"/>
<path d="M362.0 622.9 L561.8 559.9" stroke="#10343c" stroke-width="0.7" opacity="0.35"/>
<path d="M362.0 626.4 L561.7 563.0" stroke="#10343c" stroke-width="0.7" opacity="0.35"/>
<path d="M362.0 629.9 L561.7 566.1" stroke="#10343c" stroke-width="0.7" opacity="0.35"/>
<path d="M362.1 633.4 L561.6 569.3" stroke="#10343c" stroke-width="0.7" opacity="0.35"/>
<path d="M362.1 636.8 L561.5 572.4" stroke="#10343c" stroke-width="0.7" opacity="0.35"/>
<path d="M362.2 640.3 L561.4 575.5" stroke="#10343c" stroke-width="0.7" opacity="0.35"/>
<path d="M362.2 643.8 L561.3 578.6" stroke="#10343c" stroke-width="0.7" opacity="0.35"/>
<path d="M362.3 647.3 L561.3 581.8" stroke="#10343c" stroke-width="0.7" opacity="0.35"/>
<path d="M362.3 650.8 L561.2 584.9" stroke="#10343c" stroke-width="0.7" opacity="0.35"/>
<path d="M362.4 654.3 L561.1 588.0" stroke="#10343c" stroke-width="0.7" opacity="0.35"/>
<path d="M362.4 657.7 L561.0 591.1" stroke="#10343c" stroke-width="0.7" opacity="0.35"/>
<path d="M362.5 661.2 L560.9 594.2" stroke="#10343c" stroke-width="0.7" opacity="0.35"/>
<path d="M362.5 664.7 L560.9 597.4" stroke="#10343c" stroke-width="0.7" opacity="0.35"/>
<path d="M362.5 668.2 L560.8 600.5" stroke="#10343c" stroke-width="0.7" opacity="0.35"/>
<path d="M362.6 671.7 L560.7 603.6" stroke="#10343c" stroke-width="0.7" opacity="0.35"/>
<path d="M362.6 675.1 L560.6 606.7" stroke="#10343c" stroke-width="0.7" opacity="0.35"/>
<path d="M362.7 678.6 L560.6 609.8" stroke="#10343c" stroke-width="0.7" opacity="0.35"/>
<path d="M362.7 682.1 L560.5 613.0" stroke="#10343c" stroke-width="0.7" opacity="0.35"/>
<path d="M362.8 685.6 L560.4 616.1" stroke="#10343c" stroke-width="0.7" opacity="0.35"/>
<path d="M362.8 689.1 L560.3 619.2" stroke="#10343c" stroke-width="0.7" opacity="0.35"/>
<path d="M362.9 692.6 L560.2 622.3" stroke="#10343c" stroke-width="0.7" opacity="0.35"/>
<path d="M362.9 696.0 L560.2 625.5" stroke="#10343c" stroke-width="0.7" opacity="0.35"/>
<path d="M363.0 699.5 L560.1 628.6" stroke="#10343c" stroke-width="0.7" opacity="0.35"/>
<path d="M562.5 412.6 L557.0 632.8" stroke="#5d3324" stroke-width="4" opacity="0.85"/>
</g>
<path d="M357 449.3 L569 403 L569 411.5 L357 458.7 Z" fill="#f5f6f8"/>
<path d="M359 568.5 L565 509.5 L565 519 L359 578 Z" fill="#f5f6f8"/>
<path d="M426.8 309 L433.3 308 L431 680 L424 682.5 Z" fill="#f5f6f8"/>
<path d="M496.8 298.5 L503.3 297.5 L499.5 650 L493.4 652.5 Z" fill="#f5f6f8"/>
<path d="M401 683 L419 677 L427 681 L428 688 L408 696 L402 691 Z" fill="#f4f5f7"/>
<path d="M406 689 L420 684 L427 687 L413 692.5 Z" fill="#3b3d40"/>
<path d="M499 649 L517 642 L525 646 L526 653 L506 661 L500 656 Z" fill="#f4f5f7"/>
<path d="M504 654 L518 649 L525 652 L511 657.5 Z" fill="#3b3d40"/>
<circle cx="419.3" cy="298.7" r="6" fill="#c3c6cb"/><circle cx="418.5" cy="299.5" r="3.6" fill="#a6aaaf"/><circle cx="420" cy="298" r="2" fill="#dfe1e4"/>
<path d="M557 268.5 h9 M557 271.5 h9 M557 274.5 h9 M557 277.5 h9 M557 280.5 h9" stroke="#a9acb1" stroke-width="1.4"/>
<path d="M570.5 387 h3.5 M569 523 h3.5" stroke="#3a3a3a" stroke-width="2.4"/>
</g>
<!-- lower -->
<g id="lower">
<!-- pillar right -->
<path d="M545 680 L565 676 L565 757 L557 758 L557 795 L545 795 Z" fill="#eef0f2"/>
<path d="M557 680 L565 676 L565 757 L557 758 Z" fill="#ffffff"/>
<!-- black opening -->
<path d="M294 756 Q294 751 300 751 L345 750 C400 745 470 726 545 690 L548 1150 L418 1160 L418 1092 C380 1100 340 1106 302 1109 Q299 1109 299 1104 L299 1000 L296 885 Z" fill="#060606"/>
<!-- interior beige block -->
<path d="M474 722 L545 690 L545 805 L474 805 Z" fill="#3f3a37"/>
<path d="M476 742 L499 734 L499 808 L476 806 Z" fill="#c9c5c0"/>
<path d="M499 715 L538 700 L538 790 L499 792 Z" fill="#8a827b"/>
<path d="M499 715 L538 700 L538 724 L499 738 Z" fill="#4e4743"/>
<path d="M476 768 L499 764 L499 808 L476 806 Z" fill="#dddad6"/>
<path d="M476 790 L538 786 L538 800 L510 808 L476 806 Z" fill="#e9e8e6"/>
<!-- ledge under grid -->
<linearGradient id="gLedge2" x1="350" x2="450" y1="0" y2="0" gradientUnits="userSpaceOnUse"><stop offset="0" stop-color="#f4f5f7" stop-opacity="0"/><stop offset="1" stop-color="#f4f5f7"/></linearGradient><path d="M350 724 C440 722 520 700 566 672 L586 640 L586 662 L566 683 L534 696 C480 722 420 742 350 750 Z" fill="url(#gLedge2)"/>
<linearGradient id="gLedge" x1="300" x2="420" y1="0" y2="0" gradientUnits="userSpaceOnUse"><stop offset="0" stop-color="#eceef1" stop-opacity="0"/><stop offset="1" stop-color="#eceef1"/></linearGradient>
<path d="M352 708 C354 718 360 724 372 724 C440 722 520 700 566 672 L566 683 L534 696 C470 728 400 748 340 752 L300 751 L300 735 Z" fill="url(#gLedge)"/>
<path d="M468 686 L516 668 L530 690 L478 712 Z" fill="#fafafb"/>
<path d="M530 690 L538 680 L586 658 L586 664 L566 684 L545 692 Z" fill="#dcdee2"/>
<!-- bezel of opening -->
<path d="M289 752 L294 752 L296 885 L299 1000 L299 1106 Q300 1110 304 1109 C340 1106 380 1100 418 1092 L418 1100 C380 1112 330 1120 296 1122 Q289 1122 289 1114 Z" fill="#f7f8f9"/>
<path d="M289 752 L289 1114 Q289 1122 296 1122 C330 1120 380 1112 418 1100" fill="none" stroke="#d5d8dd" stroke-width="1.2"/>
<!-- handle recess -->
<path d="M271 889 Q273 884 284 882 L296 878 Q300 878 300 884 L300 994 Q300 1000 294 999.5 L280 998 Q269.5 996 269.5 986 L269.5 896 Q269.5 891 271 889 Z" fill="#e3e5e9" stroke="#c9ccd1" stroke-width="1"/>
<path d="M271 889 Q273 884 284 882 L296 878 L296 884 L284 888 Q277 890 276 896 L276 990 Q277 996 282 998 L280 998 Q269.5 996 269.5 986 L269.5 896 Z" fill="#d0d3d8"/>
<path d="M289 883 L298.5 880 L298.5 997 L289 996 Z" fill="#fbfbfc"/>
<path d="M272 980 Q272 994 282 996.5 L294 998.5" fill="none" stroke="#bfc2c7" stroke-width="2"/>
</g>

<!-- tank -->
<g id="tank">
<!-- collar -->
<path d="M383 813 L420 800 L498 816 L536 798 L547 800 L547 912 L384 912 Z" fill="#0b0b0b"/>
<path d="M420 801 L498 817 L470 826 L395 811 Z" fill="#1a1a1a"/>
<path d="M383 813 L395 811 L470 826 L547 832" fill="none" stroke="#2e2e2e" stroke-width="1.5"/>
<path d="M398 822 L398 905 M408 824 L408 908 M414 825 L414 908" stroke="#2a2a2a" stroke-width="2" fill="none"/>
<!-- tank side -->
<path d="M384 912 L404 919 C418 925 425 932 425.5 946 L418 1168 L524 1203 L548 1000 L548 838 L430 838 L384 850 Z" fill="url(#gTankSide)"/>
<path d="M384 830 L547 850 L547 838 L470 826 L384 814 Z" fill="#0d0d0d"/>
<path d="M384 850 L430 838 L548 860 L548 880 L470 870 L384 860 Z" fill="#151515" opacity="0.9"/>
<!-- tank top black -->
<path d="M541 795 C585 790 615 775 621.6 752.5 L621.6 730 L647 715.7 L758.4 734 L782 750 L779 760.4 C760 772 735 788 713 799.5 C690 812 670 822 649 827 L546 840 L536 800 Z" fill="#1e1e1e"/>
<path d="M541 795 C585 790 615 775 621.6 752.5 L628 754 C622 780 590 796 541 802 Z" fill="#2a2a2a"/>
<path d="M622 729.6 L647 715.7 L662 718.2 L638 731 Z" fill="#0a0a0a"/>
<path d="M622 729.6 L638 731 L656 734 L656 743 L633 750 L633 760 L621.6 756 Z" fill="#060606"/>
<path d="M638 731 L662 718.2 L758.4 734 L770 742 L656 724 Z" fill="#0c0c0c"/>
<path d="M716 773.6 L736.4 759.5 L764 763 L770 768 L752 776 L734 771 L722 781 Z" fill="#060606"/>
<path d="M736.4 759.5 L764 763 L762 757 L740 754 Z" fill="#111"/>
<!-- latch -->
<path d="M754 722 Q756 715.5 762 716.5 L776 721 Q790 731 794 746 L792 772 L786 780 L783 762 Q782 752 772 748 L758 745 Z" fill="#e3e5e8"/>
<path d="M755 724 L770 721 L776 727 L778 738 L766 742 L757 740 Z" fill="#c6c9cd"/>
<path d="M764 729 L777 727 L780 735 L768 738 Z" fill="#f2f3f5"/>
<path d="M782 757 Q786 752 786.5 745" stroke="#2a2a2a" stroke-width="2.4" fill="none"/>
<path d="M780.5 760 L783.5 762 L784 778 L781 780 Z" fill="#2a2a2a"/>
<!-- tank front -->
<path d="M548 844 Q546 838 554 837 C600 832 650 826 680 814 C720 798 755 776 779 760 L794 745 C794 800 792 860 790 876 C788 920 786 950 783 984 C780 1030 778 1060 774 1085 C768 1112 758 1128 740 1142 C720 1160 700 1175 679 1192 C650 1208 620 1213 600 1214 L530 1222 Q522 1222 522 1212 C524 1150 528 1080 531 1020 C534 980 536 950 538 912 Z" fill="url(#gTankFront)"/>
<path d="M548 844 Q546 838 554 837 C600 832 650 826 680 814 C720 798 755 776 779 760" fill="none" stroke="#ffffff" stroke-width="2.5"/>
<path d="M779 760 L794 745 C794 800 792 860 790 876 C788 920 786 950 783 984 C780 1030 778 1060 774 1085 C768 1112 758 1128 740 1142 L756 1090 C764 1000 772 860 779 760 Z" fill="#dfe1e5" opacity="0.9"/>
<!-- window slot -->
<path d="M738 849 Q739 841 744.5 841 Q750 841 749.6 849 C748 920 744 1000 738 1070 Q737 1078 730 1080 Q725 1081 725.5 1072 C728 1000 733 920 738 849 Z" fill="#55585d"/>
<path d="M741 852 Q743 844 746.5 848 C745 920 741 1000 735 1070 Q730 1076 729 1070 C731 1000 736 920 741 852 Z" fill="#404246"/>
<path d="M736 960 L743 955 L741 1000 L733 1010 Z" fill="#7d8085" opacity="0.7"/>
<path d="M738 849 C733 920 728 1000 725.5 1072" stroke="#f4f5f6" stroke-width="1.2" fill="none" opacity="0.8"/>
</g>

<!-- inset -->
<g id="inset">
<circle cx="1208" cy="783" r="130" fill="#000" opacity="0.16" filter="url(#blur12)"/>
<circle cx="1207.8" cy="778.2" r="118.5" fill="#fff"/>
<g clip-path="url(#cInset)">
<rect x="1080" y="650" width="260" height="260" fill="#fcfcfc"/>
<rect x="1080" y="688" width="260" height="28" fill="#f7f7f7"/>
<path d="M1132 687.3 L1275 687.3 L1279 684.5" stroke="#d6d6d6" stroke-width="1.4" fill="none"/>
<path d="M1196 660.5 q3 3 7 0 M1228 663 q2 2 5 0" stroke="#777" stroke-width="2" fill="none" filter="url(#blur1)"/>
<!-- dark field -->
<rect x="1080" y="715.5" width="216" height="200" fill="#2c2c2c"/>
<!-- top-left black -->
<path d="M1080 715.5 L1215 715.5 L1215 760 Q1200 752 1180 752 L1080 752 Z" fill="#090909"/>
<!-- curved black band -->
<path d="M1080 745 L1170 745 Q1214 750 1216 795 L1216 900 L1186 900 L1186 815 Q1184 790 1160 788 L1080 788 Z" fill="#0b0b0b" filter="url(#blur2)"/>
<!-- lower-left grey -->
<path d="M1080 792 L1160 792 Q1182 794 1184 816 L1184 900 L1080 900 Z" fill="#353535" filter="url(#blur2)"/>
<path d="M1080 796 L1150 796 Q1170 798 1176 812 L1080 812 Z" fill="#2a2a2a" filter="url(#blur2)"/>
<!-- right middle panel -->
<rect x="1216" y="716" width="80" height="140" fill="#2b2b2b"/>
<rect x="1216" y="716" width="80" height="30" fill="#202020" filter="url(#blur2)"/>
<!-- bottom black -->
<path d="M1192 858 L1296 858 L1296 900 L1192 900 Z" fill="#0c0c0c" filter="url(#blur2)"/>
<path d="M1196 882 L1290 882 L1290 900 L1196 900 Z" fill="#2a2a2a" filter="url(#blur2)"/>
<!-- connectors -->
<path d="M1278 764 h14 M1278 777 h14 M1278 790 h14" stroke="#5a5a5a" stroke-width="4" filter="url(#blur1)"/>
<rect x="1290" y="800" width="6" height="60" fill="#7a6b58" filter="url(#blur1)"/>
<!-- right white panel -->
<rect x="1295.8" y="715" width="45" height="200" fill="#f4f3f1"/>
<rect x="1293.5" y="715" width="3.5" height="200" fill="#d9d7d3" filter="url(#blur1)"/>
<circle cx="1309" cy="733" r="6.5" fill="#8f877d" filter="url(#blur1)"/>
<circle cx="1294" cy="720" r="4" fill="#e9eef5" filter="url(#blur1)"/>
<!-- tab with screw -->
<path d="M1147.6 715 h33 v23.5 q0 6 -6 6 h-21 q-6 0 -6 -6 z" fill="#f7f7f7"/>
<circle cx="1163.2" cy="727.1" r="7" fill="#d6d6d6"/><circle cx="1163.2" cy="727.1" r="5.5" fill="#bdbdbd"/>
<path d="M1160 724 l6.5 6.5 M1166.5 724 l-6.5 6.5" stroke="#6a6a6a" stroke-width="1.6"/>
<!-- drain outlet -->
<path d="M1194 715.5 h26 v16 q-2 8 -13 8 q-11 0 -13 -8 z" fill="#3a3a3a" filter="url(#blur1)"/>
<circle cx="1208.3" cy="734" r="10" fill="#6b6b6b" filter="url(#blur1)"/>
<circle cx="1208.3" cy="734" r="8.2" fill="#8d8d8d" opacity="0.6"/>
<circle cx="1208.6" cy="734.5" r="6.4" fill="#040404"/>
<rect x="1232.5" y="792" width="22.5" height="6.5" rx="1.5" fill="#050505" filter="url(#blur1)"/>
<circle cx="1244.6" cy="812" r="2.4" fill="#8a8a8a" filter="url(#blur1)"/>
</g>
</g>

<!-- lines -->
<g fill="none" stroke="#7dc242" stroke-width="7" stroke-linecap="round" stroke-linejoin="miter">
<path d="M541.4 704 V894.5 H946"/>
<path d="M698.5 1146.5 H1026"/>
</g>
<circle cx="946" cy="894.5" r="9" fill="#7dc242"/>
<circle cx="1026.5" cy="1146.5" r="9" fill="#7dc242"/>

<!-- text -->
<text y="147" font-size="48" font-weight="bold" stroke="#4a4a4a" stroke-width="0.6" xml:space="preserve"><tspan x="671.3" textLength="226.9" lengthAdjust="spacingAndGlyphs">Activated</tspan> <tspan x="911.8" textLength="164.8" lengthAdjust="spacingAndGlyphs">carbon</tspan> <tspan x="1090.2" textLength="253.8" lengthAdjust="spacingAndGlyphs">anti-odour</tspan></text>
<text y="201.5" font-size="48" font-weight="bold" stroke="#4a4a4a" stroke-width="0.6" xml:space="preserve"><tspan x="710.2" textLength="88.4" lengthAdjust="spacingAndGlyphs">and</tspan> <tspan x="813.4" textLength="126.8" lengthAdjust="spacingAndGlyphs">HEPA</tspan> <tspan x="951.4" textLength="134.8" lengthAdjust="spacingAndGlyphs">filters</tspan> <tspan x="1099.8" textLength="207.0" lengthAdjust="spacingAndGlyphs">included</tspan></text>
<text y="954.5" font-size="48" font-weight="bold" stroke="#4a4a4a" stroke-width="0.6" xml:space="preserve"><tspan x="1073.5" textLength="272.5" lengthAdjust="spacingAndGlyphs">Continuous</tspan></text>
<text y="1009.5" font-size="48" font-weight="bold" stroke="#4a4a4a" stroke-width="0.6" xml:space="preserve"><tspan x="1012.2" textLength="214.7" lengthAdjust="spacingAndGlyphs">drainage</tspan> <tspan x="1236.6" textLength="163.4" lengthAdjust="spacingAndGlyphs">outlet*</tspan></text>
<text y="1119" font-size="48" font-weight="bold" stroke="#4a4a4a" stroke-width="0.6" xml:space="preserve"><tspan x="1168.0" textLength="57.0" lengthAdjust="spacingAndGlyphs">6L</tspan></text>
<text y="1174" font-size="48" font-weight="bold" stroke="#4a4a4a" stroke-width="0.6" xml:space="preserve"><tspan x="1070.0" textLength="133.5" lengthAdjust="spacingAndGlyphs">water</tspan> <tspan x="1219.0" textLength="104.5" lengthAdjust="spacingAndGlyphs">tank</tspan></text>
<text y="1396" font-size="49" xml:space="preserve"><tspan x="177.2" textLength="220.8" lengthAdjust="spacingAndGlyphs">*Optional</tspan> <tspan x="409.2" textLength="246.8" lengthAdjust="spacingAndGlyphs">continuous</tspan> <tspan x="666.0" textLength="183.2" lengthAdjust="spacingAndGlyphs">draining</tspan> <tspan x="862.8" textLength="107.2" lengthAdjust="spacingAndGlyphs">hose</tspan> <tspan x="980.8" textLength="93.2" lengthAdjust="spacingAndGlyphs">sold</tspan> <tspan x="1086.8" textLength="243.2" lengthAdjust="spacingAndGlyphs">separately.</tspan></text>
</svg>
</body></html>
